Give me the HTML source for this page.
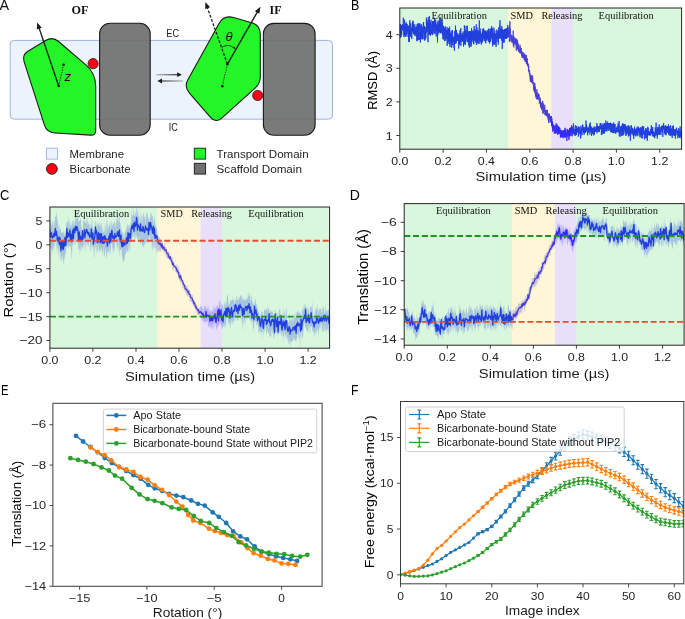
<!DOCTYPE html><html><head><meta charset="utf-8"><style>html,body{margin:0;padding:0;background:#fff;overflow:hidden}svg{display:block;will-change:transform}text{white-space:pre}</style></head><body><svg width="685" height="619" viewBox="0 0 685 619">
<rect width="685" height="619" fill="#fff"/>
<text x="-0.5" y="10.0" font-size="14.2" font-family="Liberation Sans" textLength="9.6" lengthAdjust="spacingAndGlyphs" fill="#111">A</text>
<rect x="10.2" y="40.4" width="322.3" height="78.8" rx="4" fill="#edf3fc" stroke="#9db4e0" stroke-width="1"/>
<text x="166.3" y="37.4" font-size="10.0" font-family="Liberation Sans" textLength="12.8" lengthAdjust="spacingAndGlyphs" fill="#222">EC</text>
<text x="168.8" y="130.7" font-size="10.0" font-family="Liberation Sans" textLength="9.0" lengthAdjust="spacingAndGlyphs" fill="#222">IC</text>
<text x="71.4" y="14.4" font-size="12.0" font-family="Liberation Serif" font-weight="bold" textLength="17.0" lengthAdjust="spacingAndGlyphs" fill="#111">OF</text>
<text x="269.6" y="13.9" font-size="12.0" font-family="Liberation Serif" font-weight="bold" textLength="12.0" lengthAdjust="spacingAndGlyphs" fill="#111">IF</text>
<path d="M45.67,40.46 Q52.50,36.30 58.57,41.51 L85.84,64.93 Q95.70,73.40 95.70,86.40 L95.70,130.40 Q95.70,135.40 90.71,135.10 L54.79,132.97 Q46.80,132.50 44.36,124.88 L24.08,61.57 Q21.95,54.90 27.93,51.26 Z" fill="#24f526" stroke="#1a1a1a" stroke-width="1.1" stroke-linejoin="round"/>
<path d="M219.06,23.45 Q223.90,14.70 233.50,17.50 L251.66,22.78 Q260.30,25.30 260.30,34.30 L260.30,76.50 Q260.30,83.50 255.09,88.17 L221.76,118.06 Q215.80,123.40 210.55,117.36 L189.25,92.84 Q184.00,86.80 187.87,79.80 Z" fill="#24f526" stroke="#1a1a1a" stroke-width="1.1" stroke-linejoin="round"/>
<rect x="99.6" y="23.3" width="50.6" height="111.9" rx="10.5" fill="rgb(112,112,112)" fill-opacity="0.93" stroke="#1a1a1a" stroke-width="1.1"/>
<rect x="263.4" y="23.4" width="51.7" height="111.8" rx="10.5" fill="rgb(112,112,112)" fill-opacity="0.93" stroke="#1a1a1a" stroke-width="1.1"/>
<circle cx="93.1" cy="63.7" r="5.1" fill="#ff0014" stroke="#1a1a1a" stroke-width="0.8"/>
<circle cx="257.7" cy="95.5" r="5.1" fill="#ff0014" stroke="#1a1a1a" stroke-width="0.8"/>
<line x1="58.7" y1="86.0" x2="38.80" y2="27.14" stroke="#1a1a1a" stroke-width="1.35"/>
<path d="M37.20,22.40 L41.74,27.73 L36.82,29.39 Z" fill="#1a1a1a"/>
<line x1="58.7" y1="86.0" x2="63.6" y2="64.7" stroke="#1a1a1a" stroke-width="0.9" stroke-dasharray="1.4 1.2"/>
<circle cx="58.7" cy="86.0" r="1.3" fill="#1a1a1a"/><circle cx="63.6" cy="64.7" r="1.3" fill="#1a1a1a"/>
<text x="64.4" y="80.7" font-size="13.2" font-family="Liberation Sans" font-style="italic" fill="#111">z</text>
<line x1="227.4" y1="64.2" x2="207.07" y2="6.71" stroke="#1a1a1a" stroke-width="1.3" stroke-dasharray="2.8 1.7"/>
<path d="M205.40,2.00 L210.02,7.26 L205.12,8.99 Z" fill="#1a1a1a"/>
<line x1="227.4" y1="64.2" x2="257.91" y2="11.13" stroke="#1a1a1a" stroke-width="1.35"/>
<path d="M260.40,6.80 L259.41,13.73 L254.91,11.14 Z" fill="#1a1a1a"/>
<line x1="227.4" y1="64.2" x2="222.3" y2="86.3" stroke="#1a1a1a" stroke-width="0.9" stroke-dasharray="1.4 1.2"/>
<circle cx="227.4" cy="64.2" r="1.3" fill="#1a1a1a"/><circle cx="222.3" cy="86.3" r="1.3" fill="#1a1a1a"/>
<text x="225.4" y="40.9" font-size="13.0" font-family="Liberation Sans" font-style="italic" fill="#111">θ</text>
<path d="M222.0,47.3 Q228.5,43.0 235.0,48.6" fill="none" stroke="#1a1a1a" stroke-width="0.8"/>
<path d="M235.4,49.2 L232.6,47.8 L234.6,46.4 Z" fill="#1a1a1a"/>
<defs><linearGradient id="gR" gradientUnits="userSpaceOnUse" x1="156" y1="0" x2="180" y2="0"><stop offset="0" stop-color="#222" stop-opacity="0.25"/><stop offset="1" stop-color="#222" stop-opacity="0.95"/></linearGradient><linearGradient id="gL" gradientUnits="userSpaceOnUse" x1="158" y1="0" x2="183" y2="0"><stop offset="0" stop-color="#222" stop-opacity="0.95"/><stop offset="1" stop-color="#222" stop-opacity="0.25"/></linearGradient></defs>
<line x1="156.0" y1="74.7" x2="178.5" y2="74.7" stroke="url(#gR)" stroke-width="1.3"/>
<path d="M181.8,74.7 L177.2,72.3 L177.2,77.1 Z" fill="#1a1a1a"/>
<line x1="161" y1="81.0" x2="183.0" y2="81.0" stroke="url(#gL)" stroke-width="1.3"/>
<path d="M157.4,81.0 L162.0,78.6 L162.0,83.4 Z" fill="#1a1a1a"/>
<rect x="46.4" y="148.2" width="11.2" height="10.9" fill="#edf3fc" stroke="#9db4e0" stroke-width="0.9"/>
<circle cx="51.9" cy="168.9" r="5.4" fill="#ff0014" stroke="#1a1a1a" stroke-width="0.9"/>
<rect x="194.3" y="148.2" width="11.3" height="10.9" fill="#24f526" stroke="#1a1a1a" stroke-width="0.9"/>
<rect x="194.3" y="163.3" width="11.3" height="10.8" fill="rgb(112,112,112)" stroke="#1a1a1a" stroke-width="0.9"/>
<text x="69.6" y="157.9" font-size="11.4" font-family="Liberation Sans" textLength="54.4" lengthAdjust="spacingAndGlyphs" fill="#222">Membrane</text>
<text x="69.6" y="172.8" font-size="11.4" font-family="Liberation Sans" textLength="61.0" lengthAdjust="spacingAndGlyphs" fill="#222">Bicarbonate</text>
<text x="216.6" y="158.0" font-size="11.4" font-family="Liberation Sans" textLength="92.0" lengthAdjust="spacingAndGlyphs" fill="#222">Transport Domain</text>
<text x="216.6" y="172.7" font-size="11.4" font-family="Liberation Sans" textLength="85.3" lengthAdjust="spacingAndGlyphs" fill="#222">Scaffold Domain</text>
<defs>
<clipPath id="cB"><rect x="399.8" y="8.0" width="281.8" height="141.2"/></clipPath>
</defs>
<g clip-path="url(#cB)">
<polyline points="399.8,26.9 399.9,26.5 400.0,28.5 400.1,32.7 400.2,27.7 400.3,24.0 400.4,29.4 400.5,27.5 400.6,37.7 400.7,29.4 400.8,29.4 400.9,34.7 401.0,37.1 401.1,27.1 401.2,32.6 401.3,26.3 401.4,30.3 401.5,25.2 401.6,29.5 401.7,34.9 401.8,28.3 401.9,29.5 402.0,25.2 402.1,30.6 402.2,30.7 402.3,25.3 402.4,24.1 402.5,26.2 402.6,25.1 402.7,27.8 402.8,26.3 402.9,25.7 403.0,27.7 403.1,29.0 403.2,28.4 403.3,17.7 403.4,28.5 403.5,29.5 403.6,29.9 403.7,28.3 403.8,26.9 403.9,33.2 404.0,37.1 404.1,26.4 404.2,35.1 404.3,26.3 404.4,26.8 404.5,22.1 404.6,19.7 404.7,25.7 404.8,30.0 404.9,32.8 405.0,30.9 405.1,27.0 405.2,36.7 405.3,26.6 405.4,26.9 405.5,23.8 405.6,28.4 405.7,26.6 405.8,30.8 405.9,29.9 406.0,36.5 406.1,28.3 406.2,22.2 406.3,29.1 406.4,28.5 406.5,34.9 406.6,23.8 406.7,33.8 406.8,26.3 406.9,29.2 407.0,33.7 407.1,24.1 407.2,28.5 407.3,27.5 407.4,26.2 407.5,28.4 407.6,30.2 407.7,26.5 407.8,30.9 407.9,29.0 408.0,32.7 408.1,36.9 408.3,33.4 408.4,32.9 408.5,30.8 408.6,25.7 408.7,39.3 408.8,31.0 408.9,42.0 409.0,36.6 409.1,34.1 409.2,42.0 409.3,39.9 409.4,30.3 409.5,30.3 409.6,31.0 409.7,34.0 409.8,20.2 409.9,30.9 410.0,34.3 410.1,22.7 410.2,27.9 410.3,32.8 410.4,25.8 410.5,30.8 410.6,28.8 410.7,30.8 410.8,36.8 410.9,27.6 411.0,31.5 411.1,37.0 411.2,35.9 411.3,28.0 411.4,34.1 411.5,32.1 411.6,29.2 411.7,31.5 411.8,38.9 411.9,28.7 412.0,27.1 412.1,27.3 412.2,23.6 412.3,29.2 412.4,27.1 412.5,23.1 412.6,31.5 412.7,21.8 412.8,21.6 412.9,25.8 413.0,20.7 413.1,25.3 413.2,33.4 413.3,24.1 413.4,28.0 413.5,27.8 413.6,29.2 413.7,23.8 413.8,27.8 413.9,33.9 414.0,28.7 414.1,27.9 414.2,35.0 414.3,34.0 414.4,34.1 414.5,35.5 414.6,31.4 414.7,28.5 414.8,24.5 414.9,27.8 415.0,28.6 415.1,28.0 415.2,27.0 415.3,34.8 415.4,29.6 415.5,31.1 415.6,32.8 415.7,33.9 415.8,33.7 415.9,32.2 416.0,36.3 416.1,27.9 416.2,30.3 416.3,29.6 416.4,28.5 416.5,26.8 416.6,33.0 416.7,30.9 416.8,38.1 416.9,41.2 417.0,40.2 417.1,24.3 417.2,40.3 417.3,30.0 417.4,25.8 417.5,35.2 417.6,26.0 417.7,25.4 417.8,29.9 417.9,23.5 418.0,31.7 418.1,37.9 418.2,32.0 418.3,36.4 418.4,40.2 418.5,40.0 418.6,23.3 418.7,36.5 418.8,34.1 418.9,37.1 419.0,33.4 419.1,35.0 419.2,35.7 419.3,39.2 419.4,40.0 419.5,36.7 419.6,31.7 419.7,23.3 419.8,27.9 419.9,24.3 420.0,30.4 420.1,33.1 420.2,38.8 420.3,32.7 420.4,42.6 420.5,34.0 420.6,25.0 420.7,30.9 420.8,27.2 420.9,34.1 421.0,38.8 421.1,34.8 421.2,34.7 421.3,27.6 421.4,24.3 421.5,37.1 421.6,35.5 421.7,34.5 421.8,35.4 421.9,39.3 422.0,32.8 422.1,31.2 422.2,30.6 422.3,37.6 422.4,32.1 422.5,39.2 422.6,26.7 422.7,35.5 422.8,31.9 422.9,32.8 423.0,33.5 423.1,35.8 423.2,39.2 423.3,23.2 423.4,30.2 423.5,30.3 423.6,22.0 423.7,32.3 423.8,29.4 423.9,31.9 424.0,26.5 424.1,29.6 424.2,30.3 424.3,32.8 424.4,30.1 424.5,25.9 424.6,40.7 424.7,31.5 424.8,32.7 425.0,32.1 425.1,39.7 425.2,27.1 425.3,34.4 425.4,31.5 425.5,32.7 425.6,38.0 425.7,32.2 425.8,38.4 425.9,33.9 426.0,30.6 426.1,28.7 426.2,28.0 426.3,28.5 426.4,17.6 426.5,25.2 426.6,32.7 426.7,29.8 426.8,30.1 426.9,28.0 427.0,30.1 427.1,31.5 427.2,20.2 427.3,27.9 427.4,30.0 427.5,29.8 427.6,29.8 427.7,22.3 427.8,26.4 427.9,23.0 428.0,42.2 428.1,25.8 428.2,21.9 428.3,17.2 428.4,25.9 428.5,33.9 428.6,23.3 428.7,29.0 428.8,34.9 428.9,29.8 429.0,22.4 429.1,21.9 429.2,24.3 429.3,32.6 429.4,16.2 429.5,33.3 429.6,28.3 429.7,34.7 429.8,21.9 429.9,25.9 430.0,23.7 430.1,27.2 430.2,27.7 430.3,26.3 430.4,35.7 430.5,22.1 430.6,22.4 430.7,28.5 430.8,26.8 430.9,25.5 431.0,19.8 431.1,25.2 431.2,27.1 431.3,29.7 431.4,34.3 431.5,30.1 431.6,27.0 431.7,28.5 431.8,27.0 431.9,23.9 432.0,25.4 432.1,26.1 432.2,24.4 432.3,26.5 432.4,27.5 432.5,25.1 432.6,35.1 432.7,21.1 432.8,32.7 432.9,22.6 433.0,26.2 433.1,21.0 433.2,26.0 433.3,30.6 433.4,21.3 433.5,25.7 433.6,26.2 433.7,26.5 433.8,22.3 433.9,23.2 434.0,25.8 434.1,33.9 434.2,28.4 434.3,25.8 434.4,17.8 434.5,24.3 434.6,26.5 434.7,20.6 434.8,26.9 434.9,26.6 435.0,26.0 435.1,33.8 435.2,22.4 435.3,24.9 435.4,28.0 435.5,31.8 435.6,25.3 435.7,19.6 435.8,28.9 435.9,30.8 436.0,24.0 436.1,33.5 436.2,36.6 436.3,28.6 436.4,29.9 436.5,28.1 436.6,29.5 436.7,25.4 436.8,28.0 436.9,29.8 437.0,29.2 437.1,24.2 437.2,22.7 437.3,23.0 437.4,24.0 437.5,42.5 437.6,31.9 437.7,28.8 437.8,26.5 437.9,35.0 438.0,20.9 438.1,26.0 438.2,30.1 438.3,26.3 438.4,28.4 438.5,30.0 438.6,24.0 438.7,28.3 438.8,32.7 438.9,29.1 439.0,26.8 439.1,31.5 439.2,20.8 439.3,31.9 439.4,19.0 439.5,23.2 439.6,31.8 439.7,26.9 439.8,22.0 439.9,28.2 440.0,32.6 440.1,26.3 440.2,17.4 440.3,33.4 440.4,23.8 440.5,26.3 440.6,26.9 440.7,28.3 440.8,28.0 440.9,21.7 441.0,23.8 441.1,31.3 441.2,19.5 441.3,33.0 441.4,24.1 441.5,26.7 441.6,22.4 441.8,26.9 441.9,24.2 442.0,29.9 442.1,25.8 442.2,29.3 442.3,21.3 442.4,34.9 442.5,26.3 442.6,29.8 442.7,31.3 442.8,34.7 442.9,30.1 443.0,39.0 443.1,38.6 443.2,28.9 443.3,39.5 443.4,25.7 443.5,33.7 443.6,31.4 443.7,32.3 443.8,30.9 443.9,34.4 444.0,35.0 444.1,34.1 444.2,28.8 444.3,28.5 444.4,27.8 444.5,31.9 444.6,34.5 444.7,41.2 444.8,30.2 444.9,29.1 445.0,34.6 445.1,28.8 445.2,26.4 445.3,31.8 445.4,27.3 445.5,30.9 445.6,40.6 445.7,35.1 445.8,35.2 445.9,31.2 446.0,38.0 446.1,36.4 446.2,39.0 446.3,34.8 446.4,34.2 446.5,29.9 446.6,30.6 446.7,33.4 446.8,33.0 446.9,33.5 447.0,33.5 447.1,27.0 447.2,45.8 447.3,35.2 447.4,33.0 447.5,29.3 447.6,39.7 447.7,33.1 447.8,30.9 447.9,37.1 448.0,44.0 448.1,37.1 448.2,41.3 448.3,33.0 448.4,40.2 448.5,28.2 448.6,36.0 448.7,40.4 448.8,38.9 448.9,41.6 449.0,34.6 449.1,29.5 449.2,37.4 449.3,32.2 449.4,41.0 449.5,35.5 449.6,26.6 449.7,44.1 449.8,32.2 449.9,32.8 450.0,47.1 450.1,45.2 450.2,43.1 450.3,34.1 450.4,40.6 450.5,39.3 450.6,35.2 450.7,38.0 450.8,37.5 450.9,40.0 451.0,33.3 451.1,42.0 451.2,30.6 451.3,40.0 451.4,42.1 451.5,35.4 451.6,36.4 451.7,47.7 451.8,37.5 451.9,44.8 452.0,42.4 452.1,34.9 452.2,42.7 452.3,37.1 452.4,40.7 452.5,30.1 452.6,39.8 452.7,45.2 452.8,45.2 452.9,44.7 453.0,40.2 453.1,41.1 453.2,36.8 453.3,40.6 453.4,40.8 453.5,39.7 453.6,41.7 453.7,39.5 453.8,36.9 453.9,36.7 454.0,42.5 454.1,47.9 454.2,43.2 454.3,38.0 454.4,50.7 454.5,41.3 454.6,36.9 454.7,41.5 454.8,44.0 454.9,30.6 455.0,32.2 455.1,39.7 455.2,32.2 455.3,32.2 455.4,43.4 455.5,25.6 455.6,42.2 455.7,39.0 455.8,42.7 455.9,37.0 456.0,43.3 456.1,37.2 456.2,32.1 456.3,36.1 456.4,38.3 456.5,29.9 456.6,41.2 456.7,32.4 456.8,38.1 456.9,35.5 457.0,36.0 457.1,35.3 457.2,35.9 457.3,39.1 457.4,38.1 457.5,33.4 457.6,36.0 457.7,41.0 457.8,39.0 457.9,39.0 458.0,36.1 458.1,35.0 458.2,35.3 458.3,38.7 458.4,35.4 458.6,41.7 458.7,48.6 458.8,35.4 458.9,42.9 459.0,39.8 459.1,41.2 459.2,33.0 459.3,41.9 459.4,35.3 459.5,39.3 459.6,43.1 459.7,45.1 459.8,35.9 459.9,36.5 460.0,34.9 460.1,30.1 460.2,37.3 460.3,37.2 460.4,39.0 460.5,37.8 460.6,39.6 460.7,41.9 460.8,28.2 460.9,45.7 461.0,35.5 461.1,34.3 461.2,35.4 461.3,40.3 461.4,36.5 461.5,37.7 461.6,40.5 461.7,35.9 461.8,37.7 461.9,38.6 462.0,33.1 462.1,41.4 462.2,34.6 462.3,39.6 462.4,34.8 462.5,36.5 462.6,35.7 462.7,41.4 462.8,40.4 462.9,40.7 463.0,35.8 463.1,33.1 463.2,31.5 463.3,38.7 463.4,35.9 463.5,43.8 463.6,46.5 463.7,40.2 463.8,39.2 463.9,43.3 464.0,44.3 464.1,33.6 464.2,39.7 464.3,43.8 464.4,25.4 464.5,35.4 464.6,37.8 464.7,33.4 464.8,40.2 464.9,29.6 465.0,44.2 465.1,43.3 465.2,38.0 465.3,41.0 465.4,30.9 465.5,44.9 465.6,40.7 465.7,36.1 465.8,34.4 465.9,32.2 466.0,34.9 466.1,25.9 466.2,37.9 466.3,34.5 466.4,30.9 466.5,35.9 466.6,35.5 466.7,36.0 466.8,36.7 466.9,38.9 467.0,36.4 467.1,41.2 467.2,32.7 467.3,42.2 467.4,25.8 467.5,27.9 467.6,31.0 467.7,37.4 467.8,39.3 467.9,31.0 468.0,35.8 468.1,34.1 468.2,40.0 468.3,31.9 468.4,40.7 468.5,36.7 468.6,45.5 468.7,40.7 468.8,35.5 468.9,40.0 469.0,39.8 469.1,33.9 469.2,37.5 469.3,31.1 469.4,47.6 469.5,33.4 469.6,33.4 469.7,42.7 469.8,41.4 469.9,31.2 470.0,40.1 470.1,38.1 470.2,32.4 470.3,36.7 470.4,33.1 470.5,39.5 470.6,34.4 470.7,31.1 470.8,34.9 470.9,46.9 471.0,34.0 471.1,36.9 471.2,41.4 471.3,30.8 471.4,45.2 471.5,28.3 471.6,39.7 471.7,29.3 471.8,36.5 471.9,42.2 472.0,35.5 472.1,34.2 472.2,33.2 472.3,30.8 472.4,39.8 472.5,33.5 472.6,32.4 472.7,37.1 472.8,40.2 472.9,40.4 473.0,32.6 473.1,32.4 473.2,40.0 473.3,42.4 473.4,30.6 473.5,43.5 473.6,35.6 473.7,40.1 473.8,44.4 473.9,35.8 474.0,37.2 474.1,29.8 474.2,26.0 474.3,37.4 474.4,31.9 474.5,31.8 474.6,39.1 474.7,40.7 474.8,29.3 474.9,38.3 475.0,36.6 475.1,37.7 475.3,36.9 475.4,39.0 475.5,32.7 475.6,30.3 475.7,37.8 475.8,42.4 475.9,35.7 476.0,42.6 476.1,38.5 476.2,29.6 476.3,24.4 476.4,33.1 476.5,39.6 476.6,31.0 476.7,44.9 476.8,37.6 476.9,27.3 477.0,30.7 477.1,40.5 477.2,41.7 477.3,30.1 477.4,34.3 477.5,36.9 477.6,32.4 477.7,37.2 477.8,43.6 477.9,31.3 478.0,38.3 478.1,40.2 478.2,41.9 478.3,34.8 478.4,39.7 478.5,33.0 478.6,37.0 478.7,30.6 478.8,37.2 478.9,38.2 479.0,44.0 479.1,39.8 479.2,31.2 479.3,20.3 479.4,40.0 479.5,39.0 479.6,32.7 479.7,32.2 479.8,37.7 479.9,34.4 480.0,42.5 480.1,36.8 480.2,31.6 480.3,28.6 480.4,37.3 480.5,38.0 480.6,35.1 480.7,32.4 480.8,35.5 480.9,41.4 481.0,36.4 481.1,33.7 481.2,41.5 481.3,44.5 481.4,36.0 481.5,36.7 481.6,34.0 481.7,38.1 481.8,41.4 481.9,40.4 482.0,42.9 482.1,42.2 482.2,40.1 482.3,39.3 482.4,31.5 482.5,41.9 482.6,36.2 482.7,38.4 482.8,28.8 482.9,34.4 483.0,37.5 483.1,32.2 483.2,35.8 483.3,38.4 483.4,29.2 483.5,33.1 483.6,28.4 483.7,30.9 483.8,32.6 483.9,35.4 484.0,40.9 484.1,32.5 484.2,35.3 484.3,32.5 484.4,35.7 484.5,39.0 484.6,40.7 484.7,33.1 484.8,30.6 484.9,38.2 485.0,34.9 485.1,30.7 485.2,40.9 485.3,38.5 485.4,41.9 485.5,31.1 485.6,35.0 485.7,38.1 485.8,43.3 485.9,36.3 486.0,30.6 486.1,36.4 486.2,36.9 486.3,31.9 486.4,40.4 486.5,34.5 486.6,32.0 486.7,38.3 486.8,38.5 486.9,33.5 487.0,35.1 487.1,35.6 487.2,33.5 487.3,33.5 487.4,38.9 487.5,37.9 487.6,33.2 487.7,30.5 487.8,29.9 487.9,40.5 488.0,31.9 488.1,33.6 488.2,37.3 488.3,34.8 488.4,33.1 488.5,28.7 488.6,41.7 488.7,34.2 488.8,37.7 488.9,38.1 489.0,32.0 489.1,33.6 489.2,42.0 489.3,38.6 489.4,36.2 489.5,43.6 489.6,33.1 489.7,37.5 489.8,36.4 489.9,35.6 490.0,28.8 490.1,36.9 490.2,38.6 490.3,28.7 490.4,38.8 490.5,38.5 490.6,42.1 490.7,30.4 490.8,33.8 490.9,32.6 491.0,33.7 491.1,34.9 491.2,37.7 491.3,37.5 491.4,31.8 491.5,33.1 491.6,26.0 491.7,37.0 491.8,35.8 491.9,38.5 492.1,27.8 492.2,40.2 492.3,31.5 492.4,28.9 492.5,36.5 492.6,32.9 492.7,46.3 492.8,38.5 492.9,44.5 493.0,36.2 493.1,37.1 493.2,40.7 493.3,32.9 493.4,35.6 493.5,39.7 493.6,39.7 493.7,44.2 493.8,38.3 493.9,27.7 494.0,40.6 494.1,35.3 494.2,39.6 494.3,33.2 494.4,34.7 494.5,37.6 494.6,44.5 494.7,38.5 494.8,30.5 494.9,37.1 495.0,33.1 495.1,38.2 495.2,44.6 495.3,34.2 495.4,34.7 495.5,38.9 495.6,38.0 495.7,35.0 495.8,39.1 495.9,34.7 496.0,37.2 496.1,46.9 496.2,36.5 496.3,38.2 496.4,39.0 496.5,33.1 496.6,36.9 496.7,32.1 496.8,29.6 496.9,34.0 497.0,41.9 497.1,38.3 497.2,30.8 497.3,36.2 497.4,38.7 497.5,35.4 497.6,32.7 497.7,33.8 497.8,32.1 497.9,38.9 498.0,36.4 498.1,36.3 498.2,35.2 498.3,44.7 498.4,36.2 498.5,41.2 498.6,28.7 498.7,28.0 498.8,27.4 498.9,31.4 499.0,37.3 499.1,30.6 499.2,35.8 499.3,31.8 499.4,38.5 499.5,36.7 499.6,31.6 499.7,25.3 499.8,33.3 499.9,22.7 500.0,20.3 500.1,38.8 500.2,33.0 500.3,37.3 500.4,33.6 500.5,35.4 500.6,33.4 500.7,28.7 500.8,28.9 500.9,32.1 501.0,33.3 501.1,32.9 501.2,32.9 501.3,30.9 501.4,33.6 501.5,31.4 501.6,39.8 501.7,30.3 501.8,26.1 501.9,33.5 502.0,41.0 502.1,28.6 502.2,36.5 502.3,48.9 502.4,36.3 502.5,32.5 502.6,33.4 502.7,29.2 502.8,31.8 502.9,33.7 503.0,43.0 503.1,38.8 503.2,32.5 503.3,30.0 503.4,37.6 503.5,35.6 503.6,30.5 503.7,41.4 503.8,41.5 503.9,33.6 504.0,31.3 504.1,34.5 504.2,42.5 504.3,31.9 504.4,37.9 504.5,29.1 504.6,32.7 504.7,31.4 504.8,30.2 504.9,35.8 505.0,30.4 505.1,29.1 505.2,33.2 505.3,29.4 505.4,38.0 505.5,31.4 505.6,33.9 505.7,38.9 505.8,34.6 505.9,36.0 506.0,35.6 506.1,32.5 506.2,28.2 506.3,33.9 506.4,32.1 506.5,38.8 506.6,32.5 506.7,28.4 506.8,29.9 506.9,31.3 507.0,35.2 507.1,36.8 507.2,33.1 507.3,37.8 507.4,37.1 507.5,28.4 507.6,35.7 507.7,25.1 507.8,37.7 507.9,30.7 508.0,37.1 508.1,32.1 508.2,36.8 508.3,32.8 508.4,33.6 508.5,34.8 508.6,31.2 508.8,27.6 508.9,35.6 509.0,30.3 509.1,33.4 509.2,34.0 509.3,26.1 509.4,42.0 509.5,36.7 509.6,40.8 509.7,35.6 509.8,35.4 509.9,21.3 510.0,33.6 510.1,28.7 510.2,30.6 510.3,36.8 510.4,33.8 510.5,29.9 510.6,35.2 510.7,35.3 510.8,34.5 510.9,41.4 511.0,39.3 511.1,35.6 511.2,35.1 511.3,40.1 511.4,38.3 511.5,37.8 511.6,38.1 511.7,35.5 511.8,37.5 511.9,37.5 512.0,42.5 512.1,41.3 512.2,37.0 512.3,42.8 512.4,37.0 512.5,39.8 512.6,40.2 512.7,35.8 512.8,40.0 512.9,40.7 513.0,40.4 513.1,38.4 513.2,30.6 513.3,45.5 513.4,39.5 513.5,40.4 513.6,37.1 513.7,41.1 513.8,47.4 513.9,36.3 514.0,43.5 514.1,40.5 514.2,44.3 514.3,43.6 514.4,41.9 514.5,38.1 514.6,38.2 514.7,42.4 514.8,39.4 514.9,42.0 515.0,40.7 515.1,40.8 515.2,39.6 515.3,43.2 515.4,42.1 515.5,41.3 515.6,41.9 515.7,44.6 515.8,38.0 515.9,44.4 516.0,41.5 516.1,43.4 516.2,41.0 516.3,50.6 516.4,39.4 516.5,45.8 516.6,48.6 516.7,45.0 516.8,39.3 516.9,44.0 517.0,48.7 517.1,46.6 517.2,41.9 517.3,49.2 517.4,46.1 517.5,46.6 517.6,40.4 517.7,47.0 517.8,43.0 517.9,48.4 518.0,48.8 518.1,44.3 518.2,45.4 518.3,51.5 518.4,45.6 518.5,45.7 518.6,49.0 518.7,47.1 518.8,47.2 518.9,49.3 519.0,49.8 519.1,50.2 519.2,49.3 519.3,52.1 519.4,49.0 519.5,52.7 519.6,48.9 519.7,49.4 519.8,51.8 519.9,47.2 520.0,44.7 520.1,46.4 520.2,53.3 520.3,47.0 520.4,49.8 520.5,50.7 520.6,52.4 520.7,51.2 520.8,48.0 520.9,50.4 521.0,53.0 521.1,53.9 521.2,53.5 521.3,51.2 521.4,48.2 521.5,55.7 521.6,53.3 521.7,54.4 521.8,55.6 521.9,52.9 522.0,52.8 522.1,57.9 522.2,57.1 522.3,51.7 522.4,54.0 522.5,53.5 522.6,56.0 522.7,55.7 522.8,53.5 522.9,55.9 523.0,57.5 523.1,54.8 523.2,52.7 523.3,57.7 523.4,52.7 523.5,53.8 523.6,57.9 523.7,55.9 523.8,56.1 523.9,54.5 524.0,54.6 524.1,59.7 524.2,59.9 524.3,54.1 524.4,56.6 524.5,56.0 524.6,56.4 524.7,53.6 524.8,60.7 524.9,55.1 525.0,60.1 525.1,56.4 525.2,55.0 525.3,62.0 525.4,57.7 525.6,59.5 525.7,59.7 525.8,59.0 525.9,61.9 526.0,61.9 526.1,58.0 526.2,57.8 526.3,61.6 526.4,64.1 526.5,54.9 526.6,58.2 526.7,60.3 526.8,64.0 526.9,63.1 527.0,61.2 527.1,64.4 527.2,58.2 527.3,62.2 527.4,61.9 527.5,65.8 527.6,65.8 527.7,65.9 527.8,63.6 527.9,65.5 528.0,66.2 528.1,65.4 528.2,66.3 528.3,63.7 528.4,68.6 528.5,71.2 528.6,69.1 528.7,65.7 528.8,71.2 528.9,70.1 529.0,71.4 529.1,69.9 529.2,70.7 529.3,73.9 529.4,72.9 529.5,70.4 529.6,70.6 529.7,71.6 529.8,72.3 529.9,76.0 530.0,76.7 530.1,73.8 530.2,79.5 530.3,77.1 530.4,82.0 530.5,78.5 530.6,79.5 530.7,80.9 530.8,76.5 530.9,79.9 531.0,79.1 531.1,79.0 531.2,80.4 531.3,75.1 531.4,80.2 531.5,78.7 531.6,82.8 531.7,80.9 531.8,80.8 531.9,81.1 532.0,82.0 532.1,80.5 532.2,77.2 532.3,81.7 532.4,82.0 532.5,82.8 532.6,75.5 532.7,78.0 532.8,80.8 532.9,80.5 533.0,84.2 533.1,83.0 533.2,82.2 533.3,82.7 533.4,85.5 533.5,85.6 533.6,82.7 533.7,83.6 533.8,90.3 533.9,85.2 534.0,82.7 534.1,88.1 534.2,86.3 534.3,91.1 534.4,85.7 534.5,91.1 534.6,91.8 534.7,89.8 534.8,83.2 534.9,91.2 535.0,93.2 535.1,89.1 535.2,90.0 535.3,86.7 535.4,94.6 535.5,95.9 535.6,93.1 535.7,91.8 535.8,92.4 535.9,91.0 536.0,98.1 536.1,96.9 536.2,95.6 536.3,93.4 536.4,94.6 536.5,97.0 536.6,98.7 536.7,93.9 536.8,93.8 536.9,89.3 537.0,96.9 537.1,92.3 537.2,99.7 537.3,98.0 537.4,98.4 537.5,97.9 537.6,99.0 537.7,98.2 537.8,96.9 537.9,98.0 538.0,95.2 538.1,97.2 538.2,97.1 538.3,93.4 538.4,96.5 538.5,97.1 538.6,97.7 538.7,97.6 538.8,96.4 538.9,100.1 539.0,95.3 539.1,94.4 539.2,95.7 539.3,100.2 539.4,103.4 539.5,100.7 539.6,99.6 539.7,98.3 539.8,101.3 539.9,102.0 540.0,97.6 540.1,103.6 540.2,99.4 540.3,100.1 540.4,106.0 540.5,102.0 540.6,104.3 540.7,105.5 540.8,108.0 540.9,107.4 541.0,102.5 541.1,104.8 541.2,103.4 541.3,107.3 541.4,105.7 541.5,105.9 541.6,109.6 541.7,110.1 541.8,104.9 541.9,105.7 542.0,108.6 542.1,106.4 542.2,104.4 542.4,101.4 542.5,108.5 542.6,104.7 542.7,100.9 542.8,106.5 542.9,103.1 543.0,113.9 543.1,103.6 543.2,107.7 543.3,112.8 543.4,106.2 543.5,105.8 543.6,105.8 543.7,106.2 543.8,109.8 543.9,112.0 544.0,111.6 544.1,110.7 544.2,109.6 544.3,112.0 544.4,110.6 544.5,108.4 544.6,109.9 544.7,104.8 544.8,105.3 544.9,114.2 545.0,112.9 545.1,115.1 545.2,115.0 545.3,110.8 545.4,115.0 545.5,115.3 545.6,113.3 545.7,110.6 545.8,113.6 545.9,113.7 546.0,110.3 546.1,111.5 546.2,111.6 546.3,110.4 546.4,115.5 546.5,112.3 546.6,114.6 546.7,110.2 546.8,110.8 546.9,115.8 547.0,109.7 547.1,116.4 547.2,110.4 547.3,113.1 547.4,116.1 547.5,116.9 547.6,114.8 547.7,114.2 547.8,116.2 547.9,112.9 548.0,118.3 548.1,114.9 548.2,115.1 548.3,120.4 548.4,115.0 548.5,119.5 548.6,123.0 548.7,118.3 548.8,117.6 548.9,114.8 549.0,118.7 549.1,113.6 549.2,113.9 549.3,114.9 549.4,114.4 549.5,117.1 549.6,119.6 549.7,116.5 549.8,115.7 549.9,117.7 550.0,119.1 550.1,122.6 550.2,116.6 550.3,117.4 550.4,121.8 550.5,118.0 550.6,116.2 550.7,118.4 550.8,116.1 550.9,116.2 551.0,122.3 551.1,119.6 551.2,117.9 551.3,117.2 551.4,116.4 551.5,125.8 551.6,121.3 551.7,119.7 551.8,118.8 551.9,118.1 552.0,125.5 552.1,124.4 552.2,126.7 552.3,122.0 552.4,128.0 552.5,121.6 552.6,122.6 552.7,124.2 552.8,131.7 552.9,128.1 553.0,124.5 553.1,130.5 553.2,127.5 553.3,127.3 553.4,124.8 553.5,126.6 553.6,126.8 553.7,128.9 553.8,127.9 553.9,128.5 554.0,126.4 554.1,129.1 554.2,126.0 554.3,133.6 554.4,125.9 554.5,129.7 554.6,126.3 554.7,129.2 554.8,127.2 554.9,125.5 555.0,131.1 555.1,129.3 555.2,129.9 555.3,128.8 555.4,133.6 555.5,129.5 555.6,129.6 555.7,130.9 555.8,129.2 555.9,132.8 556.0,124.7 556.1,127.3 556.2,123.3 556.3,130.8 556.4,131.6 556.5,127.7 556.6,133.1 556.7,128.1 556.8,130.8 556.9,130.0 557.0,128.6 557.1,129.4 557.2,124.7 557.3,128.3 557.4,133.8 557.5,127.9 557.6,134.4 557.7,130.8 557.8,134.5 557.9,133.4 558.0,127.5 558.1,132.4 558.2,132.4 558.3,131.9 558.4,131.0 558.5,126.0 558.6,133.1 558.7,133.2 558.8,128.2 558.9,134.2 559.1,131.0 559.2,127.0 559.3,130.2 559.4,131.7 559.5,132.6 559.6,133.4 559.7,132.8 559.8,131.0 559.9,128.2 560.0,129.2 560.1,133.5 560.2,134.1 560.3,130.3 560.4,137.3 560.5,133.7 560.6,133.5 560.7,135.8 560.8,135.6 560.9,132.0 561.0,137.5 561.1,135.5 561.2,134.8 561.3,132.8 561.4,136.8 561.5,130.1 561.6,134.0 561.7,133.9 561.8,134.3 561.9,135.3 562.0,136.3 562.1,130.6 562.2,133.4 562.3,134.5 562.4,131.6 562.5,136.4 562.6,132.8 562.7,134.4 562.8,136.9 562.9,132.2 563.0,138.3 563.1,132.3 563.2,136.4 563.3,132.7 563.4,130.0 563.5,132.1 563.6,135.3 563.7,133.5 563.8,134.2 563.9,136.3 564.0,135.9 564.1,132.6 564.2,131.1 564.3,137.4 564.4,132.7 564.5,131.1 564.6,132.1 564.7,135.2 564.8,129.5 564.9,135.7 565.0,130.5 565.1,127.8 565.2,137.8 565.3,131.4 565.4,131.3 565.5,131.6 565.6,134.4 565.7,133.3 565.8,136.6 565.9,132.6 566.0,131.7 566.1,135.3 566.2,136.2 566.3,135.1 566.4,133.9 566.5,133.8 566.6,134.2 566.7,133.6 566.8,137.2 566.9,140.9 567.0,131.4 567.1,128.9 567.2,136.7 567.3,134.5 567.4,131.8 567.5,130.0 567.6,131.0 567.7,129.3 567.8,133.2 567.9,132.0 568.0,132.1 568.1,134.6 568.2,130.1 568.3,131.7 568.4,130.7 568.5,134.5 568.6,130.3 568.7,136.0 568.8,131.7 568.9,139.9 569.0,135.3 569.1,130.3 569.2,133.6 569.3,131.8 569.4,136.9 569.5,128.1 569.6,130.7 569.7,132.5 569.8,131.2 569.9,131.3 570.0,128.1 570.1,131.2 570.2,135.7 570.3,132.1 570.4,127.6 570.5,129.5 570.6,132.2 570.7,129.3 570.8,130.7 570.9,129.4 571.0,135.6 571.1,133.7 571.2,129.3 571.3,131.7 571.4,130.0 571.5,125.4 571.6,131.6 571.7,129.8 571.8,132.0 571.9,132.1 572.0,130.5 572.1,134.4 572.2,136.3 572.3,126.6 572.4,130.8 572.5,127.3 572.6,130.2 572.7,130.1 572.8,128.7 572.9,128.6 573.0,134.1 573.1,127.3 573.2,133.5 573.3,130.2 573.4,123.5 573.5,130.4 573.6,125.8 573.7,131.4 573.8,128.6 573.9,130.2 574.0,129.1 574.1,132.8 574.2,133.2 574.3,129.8 574.4,135.4 574.5,133.6 574.6,129.5 574.7,133.1 574.8,133.9 574.9,134.4 575.0,130.8 575.1,132.1 575.2,130.4 575.3,131.2 575.4,125.2 575.5,131.5 575.6,135.7 575.7,129.7 575.9,130.1 576.0,129.7 576.1,134.7 576.2,127.1 576.3,130.4 576.4,130.4 576.5,134.7 576.6,128.7 576.7,130.1 576.8,125.9 576.9,130.7 577.0,132.8 577.1,128.8 577.2,131.6 577.3,127.8 577.4,132.0 577.5,129.3 577.6,129.7 577.7,129.3 577.8,130.8 577.9,131.9 578.0,130.0 578.1,131.6 578.2,129.7 578.3,131.0 578.4,136.6 578.5,130.5 578.6,126.4 578.7,129.4 578.8,128.5 578.9,128.8 579.0,131.4 579.1,133.8 579.2,127.8 579.3,127.2 579.4,128.7 579.5,129.3 579.6,129.6 579.7,131.1 579.8,130.5 579.9,131.5 580.0,130.8 580.1,134.5 580.2,133.7 580.3,130.3 580.4,132.8 580.5,138.5 580.6,131.3 580.7,137.8 580.8,125.9 580.9,129.0 581.0,128.9 581.1,132.4 581.2,133.5 581.3,130.7 581.4,129.8 581.5,131.8 581.6,129.0 581.7,127.5 581.8,127.6 581.9,132.1 582.0,135.3 582.1,129.2 582.2,131.1 582.3,128.0 582.4,124.7 582.5,124.7 582.6,128.4 582.7,126.2 582.8,124.8 582.9,129.3 583.0,128.8 583.1,127.4 583.2,130.0 583.3,131.5 583.4,132.3 583.5,130.5 583.6,132.4 583.7,128.7 583.8,132.0 583.9,127.2 584.0,128.0 584.1,134.8 584.2,128.4 584.3,132.4 584.4,127.4 584.5,129.7 584.6,131.1 584.7,129.0 584.8,132.3 584.9,129.6 585.0,129.3 585.1,130.6 585.2,128.9 585.3,132.6 585.4,128.1 585.5,132.9 585.6,127.7 585.7,128.0 585.8,127.2 585.9,130.6 586.0,120.6 586.1,129.5 586.2,128.3 586.3,130.6 586.4,124.5 586.5,129.7 586.6,125.7 586.7,131.1 586.8,127.9 586.9,130.0 587.0,126.7 587.1,130.3 587.2,132.1 587.3,128.6 587.4,133.2 587.5,132.7 587.6,128.0 587.7,135.3 587.8,128.1 587.9,131.3 588.0,132.7 588.1,129.5 588.2,128.3 588.3,131.6 588.4,130.4 588.5,127.6 588.6,127.6 588.7,129.6 588.8,131.5 588.9,131.8 589.0,130.8 589.1,127.2 589.2,127.4 589.3,128.2 589.4,125.2 589.5,129.8 589.6,130.1 589.7,130.0 589.8,123.7 589.9,134.5 590.0,128.0 590.1,127.6 590.2,128.7 590.3,122.5 590.4,125.8 590.5,127.2 590.6,132.0 590.7,128.5 590.8,131.2 590.9,130.3 591.0,130.2 591.1,132.2 591.2,129.3 591.3,126.5 591.4,128.1 591.5,130.2 591.6,136.0 591.7,127.6 591.8,127.5 591.9,130.9 592.0,131.6 592.1,128.4 592.2,132.3 592.3,127.9 592.4,133.0 592.6,132.5 592.7,130.0 592.8,134.0 592.9,130.1 593.0,128.8 593.1,133.9 593.2,127.9 593.3,132.0 593.4,129.1 593.5,130.0 593.6,131.9 593.7,132.1 593.8,135.4 593.9,132.7 594.0,132.9 594.1,126.4 594.2,128.1 594.3,134.5 594.4,128.5 594.5,129.9 594.6,131.4 594.7,128.9 594.8,127.8 594.9,131.3 595.0,130.3 595.1,129.0 595.2,132.0 595.3,128.8 595.4,129.5 595.5,131.2 595.6,131.7 595.7,128.7 595.8,127.3 595.9,128.8 596.0,132.0 596.1,127.5 596.2,129.0 596.3,127.6 596.4,125.9 596.5,131.3 596.6,129.1 596.7,130.2 596.8,130.9 596.9,123.1 597.0,125.9 597.1,133.3 597.2,127.4 597.3,130.1 597.4,125.6 597.5,128.5 597.6,129.2 597.7,128.4 597.8,127.7 597.9,128.7 598.0,129.4 598.1,129.2 598.2,127.4 598.3,131.9 598.4,128.8 598.5,129.0 598.6,129.9 598.7,126.4 598.8,131.7 598.9,129.0 599.0,130.1 599.1,126.2 599.2,128.8 599.3,127.3 599.4,126.4 599.5,131.8 599.6,126.3 599.7,129.7 599.8,128.5 599.9,128.2 600.0,125.8 600.1,126.0 600.2,123.2 600.3,127.5 600.4,129.1 600.5,129.1 600.6,125.8 600.7,123.1 600.8,126.5 600.9,129.0 601.0,126.7 601.1,126.9 601.2,127.7 601.3,129.9 601.4,135.0 601.5,129.7 601.6,125.6 601.7,128.0 601.8,134.7 601.9,128.8 602.0,133.8 602.1,123.5 602.2,128.3 602.3,132.1 602.4,126.6 602.5,130.9 602.6,127.2 602.7,128.7 602.8,132.0 602.9,127.1 603.0,132.6 603.1,125.4 603.2,128.8 603.3,131.7 603.4,133.7 603.5,124.3 603.6,124.6 603.7,131.8 603.8,123.8 603.9,127.8 604.0,128.9 604.1,128.5 604.2,129.1 604.3,124.6 604.4,128.1 604.5,133.6 604.6,123.0 604.7,126.4 604.8,131.8 604.9,129.8 605.0,131.3 605.1,128.6 605.2,127.4 605.3,127.6 605.4,129.5 605.5,129.7 605.6,124.9 605.7,127.1 605.8,120.5 605.9,128.6 606.0,124.3 606.1,126.4 606.2,128.7 606.3,123.3 606.4,127.0 606.5,130.1 606.6,128.9 606.7,125.4 606.8,131.5 606.9,124.4 607.0,126.1 607.1,128.4 607.2,123.7 607.3,122.3 607.4,125.2 607.5,126.2 607.6,121.7 607.7,122.6 607.8,129.3 607.9,127.4 608.0,127.5 608.1,128.0 608.2,131.0 608.3,124.5 608.4,126.7 608.5,126.6 608.6,123.0 608.7,128.3 608.8,126.9 608.9,126.0 609.0,127.8 609.1,126.9 609.2,124.5 609.4,126.6 609.5,123.0 609.6,128.7 609.7,126.2 609.8,130.7 609.9,127.2 610.0,128.9 610.1,123.4 610.2,125.3 610.3,126.1 610.4,122.7 610.5,124.1 610.6,126.2 610.7,130.2 610.8,132.3 610.9,128.4 611.0,129.2 611.1,129.8 611.2,128.6 611.3,132.1 611.4,123.4 611.5,130.5 611.6,129.1 611.7,125.8 611.8,131.9 611.9,125.0 612.0,125.0 612.1,128.5 612.2,130.7 612.3,129.0 612.4,132.8 612.5,123.9 612.6,127.5 612.7,129.7 612.8,130.2 612.9,126.2 613.0,123.8 613.1,131.5 613.2,129.8 613.3,133.2 613.4,126.7 613.5,128.2 613.6,122.5 613.7,129.1 613.8,129.9 613.9,130.6 614.0,126.3 614.1,133.1 614.2,126.6 614.3,128.0 614.4,130.1 614.5,131.2 614.6,125.9 614.7,123.8 614.8,130.2 614.9,127.7 615.0,124.4 615.1,131.0 615.2,130.1 615.3,132.8 615.4,130.0 615.5,129.8 615.6,130.8 615.7,131.6 615.8,133.9 615.9,133.2 616.0,132.2 616.1,127.7 616.2,130.9 616.3,131.9 616.4,127.8 616.5,128.1 616.6,131.8 616.7,131.5 616.8,127.9 616.9,128.6 617.0,131.8 617.1,128.7 617.2,129.3 617.3,126.1 617.4,131.5 617.5,126.7 617.6,127.9 617.7,131.8 617.8,126.1 617.9,126.4 618.0,132.5 618.1,123.3 618.2,131.9 618.3,131.3 618.4,129.6 618.5,126.5 618.6,127.0 618.7,128.9 618.8,124.8 618.9,127.5 619.0,124.8 619.1,121.0 619.2,128.4 619.3,136.2 619.4,130.5 619.5,132.4 619.6,129.3 619.7,129.4 619.8,133.2 619.9,133.0 620.0,130.6 620.1,130.3 620.2,136.9 620.3,126.9 620.4,129.4 620.5,129.4 620.6,128.5 620.7,132.1 620.8,129.3 620.9,126.3 621.0,126.1 621.1,127.9 621.2,130.0 621.3,131.6 621.4,125.7 621.5,128.0 621.6,130.7 621.7,135.8 621.8,132.3 621.9,135.4 622.0,126.6 622.1,129.8 622.2,132.5 622.3,131.4 622.4,123.4 622.5,127.3 622.6,134.6 622.7,131.1 622.8,134.2 622.9,135.5 623.0,130.1 623.1,123.7 623.2,126.0 623.3,130.2 623.4,131.3 623.5,129.5 623.6,127.0 623.7,133.9 623.8,134.8 623.9,124.0 624.0,128.4 624.1,124.4 624.2,128.2 624.3,124.5 624.4,130.4 624.5,127.2 624.6,124.2 624.7,125.7 624.8,130.0 624.9,126.1 625.0,130.6 625.1,132.7 625.2,127.1 625.3,124.6 625.4,126.1 625.5,132.1 625.6,126.1 625.7,126.7 625.8,130.0 625.9,136.0 626.0,126.1 626.2,126.7 626.3,128.0 626.4,134.6 626.5,134.0 626.6,127.0 626.7,127.7 626.8,128.7 626.9,130.9 627.0,129.2 627.1,131.9 627.2,131.4 627.3,133.1 627.4,129.9 627.5,131.9 627.6,128.0 627.7,128.7 627.8,133.1 627.9,125.5 628.0,133.9 628.1,129.2 628.2,127.2 628.3,126.5 628.4,136.4 628.5,127.0 628.6,126.2 628.7,125.5 628.8,136.1 628.9,131.7 629.0,130.1 629.1,131.3 629.2,126.3 629.3,132.4 629.4,127.2 629.5,129.4 629.6,135.4 629.7,134.3 629.8,133.0 629.9,131.5 630.0,129.0 630.1,132.5 630.2,129.4 630.3,136.6 630.4,140.9 630.5,133.0 630.6,130.6 630.7,132.9 630.8,134.7 630.9,130.4 631.0,125.9 631.1,131.6 631.2,133.3 631.3,133.5 631.4,125.2 631.5,130.9 631.6,128.9 631.7,127.1 631.8,127.5 631.9,133.3 632.0,128.0 632.1,128.4 632.2,129.6 632.3,128.2 632.4,132.9 632.5,131.6 632.6,133.1 632.7,129.5 632.8,133.7 632.9,130.9 633.0,135.4 633.1,132.8 633.2,133.7 633.3,133.1 633.4,132.5 633.5,133.5 633.6,133.6 633.7,138.8 633.8,129.4 633.9,134.1 634.0,132.7 634.1,134.1 634.2,128.5 634.3,133.8 634.4,129.6 634.5,127.7 634.6,126.5 634.7,128.1 634.8,130.1 634.9,135.7 635.0,128.9 635.1,129.5 635.2,130.9 635.3,131.2 635.4,133.5 635.5,135.2 635.6,130.6 635.7,129.9 635.8,136.4 635.9,130.5 636.0,132.2 636.1,130.1 636.2,131.5 636.3,128.8 636.4,128.7 636.5,128.8 636.6,135.1 636.7,128.5 636.8,130.6 636.9,134.0 637.0,128.8 637.1,134.9 637.2,128.6 637.3,126.6 637.4,133.2 637.5,129.4 637.6,130.9 637.7,130.5 637.8,136.2 637.9,130.5 638.0,131.6 638.1,129.6 638.2,131.4 638.3,127.9 638.4,130.1 638.5,128.8 638.6,126.8 638.7,130.3 638.8,128.2 638.9,130.7 639.0,130.1 639.1,133.4 639.2,129.9 639.3,128.8 639.4,132.6 639.5,130.1 639.6,131.1 639.7,135.4 639.8,131.2 639.9,128.4 640.0,133.7 640.1,137.5 640.2,131.9 640.3,134.5 640.4,127.3 640.5,132.9 640.6,132.8 640.7,134.6 640.8,131.9 640.9,134.1 641.0,135.0 641.1,132.5 641.2,134.5 641.3,128.4 641.4,135.5 641.5,132.3 641.6,134.1 641.7,136.1 641.8,127.4 641.9,138.2 642.0,128.1 642.1,136.3 642.2,132.0 642.3,125.9 642.4,138.4 642.5,136.2 642.6,128.5 642.7,131.7 642.9,133.6 643.0,132.0 643.1,134.5 643.2,131.3 643.3,127.3 643.4,132.6 643.5,131.2 643.6,128.3 643.7,126.3 643.8,133.8 643.9,131.6 644.0,134.3 644.1,134.8 644.2,134.3 644.3,135.1 644.4,138.5 644.5,139.4 644.6,135.9 644.7,133.6 644.8,130.6 644.9,135.6 645.0,134.6 645.1,132.2 645.2,131.9 645.3,134.3 645.4,134.1 645.5,128.5 645.6,134.7 645.7,135.1 645.8,138.3 645.9,132.4 646.0,134.4 646.1,128.3 646.2,134.7 646.3,131.6 646.4,131.4 646.5,129.5 646.6,138.1 646.7,130.0 646.8,134.5 646.9,134.8 647.0,135.4 647.1,135.6 647.2,135.3 647.3,140.8 647.4,132.5 647.5,133.6 647.6,136.3 647.7,133.6 647.8,126.7 647.9,132.1 648.0,134.2 648.1,128.2 648.2,135.3 648.3,133.5 648.4,134.7 648.5,133.7 648.6,130.9 648.7,131.3 648.8,134.9 648.9,133.1 649.0,132.4 649.1,133.7 649.2,132.6 649.3,134.5 649.4,134.6 649.5,132.4 649.6,135.4 649.7,131.4 649.8,133.2 649.9,135.3 650.0,134.5 650.1,134.2 650.2,133.4 650.3,132.7 650.4,133.7 650.5,135.5 650.6,129.0 650.7,130.3 650.8,132.5 650.9,130.0 651.0,131.7 651.1,133.4 651.2,132.5 651.3,125.3 651.4,130.1 651.5,130.1 651.6,134.2 651.7,131.5 651.8,127.0 651.9,132.2 652.0,130.5 652.1,130.1 652.2,131.9 652.3,129.4 652.4,133.3 652.5,132.7 652.6,136.0 652.7,127.0 652.8,133.7 652.9,134.4 653.0,130.8 653.1,136.1 653.2,134.7 653.3,136.8 653.4,134.4 653.5,135.4 653.6,132.7 653.7,134.5 653.8,135.7 653.9,134.9 654.0,134.4 654.1,135.6 654.2,131.7 654.3,132.6 654.4,134.2 654.5,138.0 654.6,133.2 654.7,138.2 654.8,134.0 654.9,134.2 655.0,135.7 655.1,136.1 655.2,135.4 655.3,127.4 655.4,133.5 655.5,133.1 655.6,129.6 655.7,130.9 655.8,129.0 655.9,135.4 656.0,135.0 656.1,122.6 656.2,132.1 656.3,132.8 656.4,131.5 656.5,129.1 656.6,135.2 656.7,131.0 656.8,131.9 656.9,129.9 657.0,131.3 657.1,133.3 657.2,134.2 657.3,138.6 657.4,129.1 657.5,135.9 657.6,132.9 657.7,127.1 657.8,132.9 657.9,130.0 658.0,132.3 658.1,129.7 658.2,131.5 658.3,132.9 658.4,127.5 658.5,131.9 658.6,134.7 658.7,131.7 658.8,129.2 658.9,133.7 659.0,128.3 659.1,128.3 659.2,124.5 659.3,132.1 659.4,128.5 659.5,135.0 659.7,131.6 659.8,130.3 659.9,129.5 660.0,130.9 660.1,131.1 660.2,132.6 660.3,132.1 660.4,129.8 660.5,129.0 660.6,128.6 660.7,127.5 660.8,126.9 660.9,135.1 661.0,131.5 661.1,130.5 661.2,131.8 661.3,127.1 661.4,127.9 661.5,130.1 661.6,129.4 661.7,126.0 661.8,130.4 661.9,130.2 662.0,126.7 662.1,127.9 662.2,125.3 662.3,128.3 662.4,127.4 662.5,131.0 662.6,132.2 662.7,129.6 662.8,136.9 662.9,128.3 663.0,126.6 663.1,129.0 663.2,129.7 663.3,126.1 663.4,129.2 663.5,126.3 663.6,123.0 663.7,127.1 663.8,126.5 663.9,127.8 664.0,128.5 664.1,128.6 664.2,129.3 664.3,126.6 664.4,134.1 664.5,130.5 664.6,128.0 664.7,132.1 664.8,130.0 664.9,131.6 665.0,128.3 665.1,127.1 665.2,125.5 665.3,128.1 665.4,131.4 665.5,128.7 665.6,127.8 665.7,125.4 665.8,135.3 665.9,128.3 666.0,134.5 666.1,127.5 666.2,128.3 666.3,128.2 666.4,127.3 666.5,128.7 666.6,131.6 666.7,128.8 666.8,126.4 666.9,130.0 667.0,129.5 667.1,132.9 667.2,126.3 667.3,130.9 667.4,131.5 667.5,130.7 667.6,132.0 667.7,130.4 667.8,126.3 667.9,127.8 668.0,126.2 668.1,126.2 668.2,133.0 668.3,129.2 668.4,126.5 668.5,124.2 668.6,134.4 668.7,134.3 668.8,128.9 668.9,131.0 669.0,132.6 669.1,128.5 669.2,131.6 669.3,135.5 669.4,129.1 669.5,128.6 669.6,127.2 669.7,126.4 669.8,128.6 669.9,130.0 670.0,131.4 670.1,134.5 670.2,131.4 670.3,127.8 670.4,129.0 670.5,125.3 670.6,131.5 670.7,136.0 670.8,128.7 670.9,128.1 671.0,134.1 671.1,135.2 671.2,130.3 671.3,128.6 671.4,133.7 671.5,131.5 671.6,132.7 671.7,133.8 671.8,134.3 671.9,130.3 672.0,131.7 672.1,132.6 672.2,138.0 672.3,125.9 672.4,133.4 672.5,131.2 672.6,134.1 672.7,129.9 672.8,135.3 672.9,131.0 673.0,131.8 673.1,128.8 673.2,134.5 673.3,133.2 673.4,132.0 673.5,125.5 673.6,135.3 673.7,130.3 673.8,132.8 673.9,130.0 674.0,129.0 674.1,130.4 674.2,130.1 674.3,130.1 674.4,132.6 674.5,131.8 674.6,136.0 674.7,132.5 674.8,133.8 674.9,132.5 675.0,129.8 675.1,130.8 675.2,130.6 675.3,128.9 675.4,138.6 675.5,130.8 675.6,132.1 675.7,132.3 675.8,135.7 675.9,130.6 676.0,129.0 676.1,129.4 676.2,132.6 676.3,130.7 676.5,130.1 676.6,127.7 676.7,129.4 676.8,132.5 676.9,132.7 677.0,132.6 677.1,132.4 677.2,134.4 677.3,130.8 677.4,134.8 677.5,135.0 677.6,131.7 677.7,134.2 677.8,133.2 677.9,138.3 678.0,130.4 678.1,132.7 678.2,133.1 678.3,131.7 678.4,132.6 678.5,135.4 678.6,128.1 678.7,135.2 678.8,131.4 678.9,129.3 679.0,136.2 679.1,134.4 679.2,136.9 679.3,131.8 679.4,135.6 679.5,137.7 679.6,130.9 679.7,131.9 679.8,136.7 679.9,130.9 680.0,133.5 680.1,126.5 680.2,129.2 680.3,135.4 680.4,134.7 680.5,136.4 680.6,133.6 680.7,133.9 680.8,132.0 680.9,133.9 681.0,138.3 681.1,136.6 681.2,130.5 681.3,131.3 681.4,135.0" fill="none" stroke="#0000ff" stroke-width="0.9" stroke-linejoin="round"/>
<rect x="399.80" y="8.0" width="108.30" height="141.2" fill="rgb(120,225,130)" fill-opacity="0.280"/>
<rect x="508.10" y="8.0" width="43.32" height="141.2" fill="rgb(252,224,112)" fill-opacity="0.286"/>
<rect x="551.42" y="8.0" width="21.66" height="141.2" fill="rgb(175,147,231)" fill-opacity="0.286"/>
<rect x="573.08" y="8.0" width="108.30" height="141.2" fill="rgb(120,225,130)" fill-opacity="0.280"/>
</g>
<rect x="399.8" y="8.0" width="281.8" height="141.2" fill="none" stroke="#262626" stroke-width="1.0"/>
<line x1="399.8" y1="149.2" x2="399.8" y2="152.7" stroke="#262626" stroke-width="0.9"/>
<text x="399.8" y="164.6" font-size="11.4" font-family="Liberation Sans" text-anchor="middle" textLength="17.2" lengthAdjust="spacingAndGlyphs" fill="#262626">0.0</text>
<line x1="443.1" y1="149.2" x2="443.1" y2="152.7" stroke="#262626" stroke-width="0.9"/>
<text x="443.1" y="164.6" font-size="11.4" font-family="Liberation Sans" text-anchor="middle" textLength="17.2" lengthAdjust="spacingAndGlyphs" fill="#262626">0.2</text>
<line x1="486.4" y1="149.2" x2="486.4" y2="152.7" stroke="#262626" stroke-width="0.9"/>
<text x="486.4" y="164.6" font-size="11.4" font-family="Liberation Sans" text-anchor="middle" textLength="17.2" lengthAdjust="spacingAndGlyphs" fill="#262626">0.4</text>
<line x1="529.8" y1="149.2" x2="529.8" y2="152.7" stroke="#262626" stroke-width="0.9"/>
<text x="529.8" y="164.6" font-size="11.4" font-family="Liberation Sans" text-anchor="middle" textLength="17.2" lengthAdjust="spacingAndGlyphs" fill="#262626">0.6</text>
<line x1="573.1" y1="149.2" x2="573.1" y2="152.7" stroke="#262626" stroke-width="0.9"/>
<text x="573.1" y="164.6" font-size="11.4" font-family="Liberation Sans" text-anchor="middle" textLength="17.2" lengthAdjust="spacingAndGlyphs" fill="#262626">0.8</text>
<line x1="616.4" y1="149.2" x2="616.4" y2="152.7" stroke="#262626" stroke-width="0.9"/>
<text x="616.4" y="164.6" font-size="11.4" font-family="Liberation Sans" text-anchor="middle" textLength="17.2" lengthAdjust="spacingAndGlyphs" fill="#262626">1.0</text>
<line x1="659.7" y1="149.2" x2="659.7" y2="152.7" stroke="#262626" stroke-width="0.9"/>
<text x="659.7" y="164.6" font-size="11.4" font-family="Liberation Sans" text-anchor="middle" textLength="17.2" lengthAdjust="spacingAndGlyphs" fill="#262626">1.2</text>
<line x1="396.3" y1="135.5" x2="399.8" y2="135.5" stroke="#262626" stroke-width="0.9"/>
<text x="392.6" y="139.5" font-size="11.4" font-family="Liberation Sans" text-anchor="end" textLength="6.9" lengthAdjust="spacingAndGlyphs" fill="#262626">1</text>
<line x1="396.3" y1="101.9" x2="399.8" y2="101.9" stroke="#262626" stroke-width="0.9"/>
<text x="392.6" y="105.9" font-size="11.4" font-family="Liberation Sans" text-anchor="end" textLength="6.9" lengthAdjust="spacingAndGlyphs" fill="#262626">2</text>
<line x1="396.3" y1="68.3" x2="399.8" y2="68.3" stroke="#262626" stroke-width="0.9"/>
<text x="392.6" y="72.3" font-size="11.4" font-family="Liberation Sans" text-anchor="end" textLength="6.9" lengthAdjust="spacingAndGlyphs" fill="#262626">3</text>
<line x1="396.3" y1="34.7" x2="399.8" y2="34.7" stroke="#262626" stroke-width="0.9"/>
<text x="392.6" y="38.7" font-size="11.4" font-family="Liberation Sans" text-anchor="end" textLength="6.9" lengthAdjust="spacingAndGlyphs" fill="#262626">4</text>
<text x="475.5" y="181.4" font-size="13.7" font-family="Liberation Sans" textLength="130.8" lengthAdjust="spacingAndGlyphs" fill="#1a1a1a">Simulation time (µs)</text>
<text transform="translate(376.8 80.4) rotate(-90)" x="0" y="0" font-size="13.5" font-family="Liberation Sans" text-anchor="middle" textLength="58.7" lengthAdjust="spacingAndGlyphs">RMSD (Å)</text>
<text x="431.5" y="19.2" font-size="10.4" font-family="Liberation Serif" textLength="55.4" lengthAdjust="spacingAndGlyphs" fill="#111">Equilibration</text>
<text x="510.5" y="19.2" font-size="10.4" font-family="Liberation Serif" textLength="22.5" lengthAdjust="spacingAndGlyphs" fill="#111">SMD</text>
<text x="541.4" y="19.2" font-size="10.4" font-family="Liberation Serif" textLength="41.1" lengthAdjust="spacingAndGlyphs" fill="#111">Releasing</text>
<text x="598.6" y="19.2" font-size="10.4" font-family="Liberation Serif" textLength="55.1" lengthAdjust="spacingAndGlyphs" fill="#111">Equilibration</text>
<text x="350.9" y="9.8" font-size="14.2" font-family="Liberation Sans" textLength="8.3" lengthAdjust="spacingAndGlyphs">B</text>
<defs>
<clipPath id="cC"><rect x="49.9" y="207.0" width="279.7" height="141.2"/></clipPath>
</defs>
<g clip-path="url(#cC)">
<polygon points="49.9,220.8 50.4,220.4 50.9,221.1 51.4,227.4 51.9,225.0 52.4,223.0 52.9,219.6 53.4,223.2 53.9,231.4 54.4,222.8 54.9,219.2 55.4,214.6 55.9,217.5 56.4,210.9 56.9,217.3 57.4,219.4 57.9,222.5 58.4,233.4 58.9,224.1 59.4,225.7 59.9,231.5 60.4,228.0 60.9,229.8 61.4,234.0 61.9,232.5 62.4,233.3 62.9,231.5 63.4,234.2 63.9,229.2 64.4,239.0 64.9,231.0 65.4,236.3 65.9,229.4 66.4,222.5 66.9,222.5 67.4,222.3 67.9,221.6 68.4,215.3 68.9,226.9 69.4,218.0 69.9,228.6 70.4,224.8 70.9,222.7 71.4,227.5 71.9,222.4 72.4,219.1 72.9,226.4 73.4,220.9 73.9,221.5 74.4,227.5 74.9,218.9 75.4,220.8 75.9,210.9 76.4,220.2 76.9,209.1 77.4,220.0 77.9,211.6 78.4,220.2 78.9,222.0 79.4,220.9 79.9,220.8 80.4,219.2 80.9,218.2 81.4,227.1 81.9,230.3 82.4,232.7 82.9,225.1 83.4,219.5 83.9,220.4 84.4,221.0 84.9,222.7 85.4,223.4 85.9,220.9 86.4,217.2 86.9,226.6 87.4,216.3 87.9,226.6 88.4,221.8 88.9,224.6 89.4,224.2 89.9,227.6 90.4,227.8 90.9,223.2 91.4,226.9 91.9,212.2 92.4,225.9 92.9,228.4 93.4,229.2 93.9,231.6 94.4,233.9 94.9,223.7 95.4,219.2 95.9,226.6 96.4,221.2 96.9,228.8 97.4,225.6 97.9,224.3 98.4,223.2 98.9,223.0 99.4,228.2 99.9,221.4 100.4,227.1 100.9,223.4 101.4,222.4 101.9,228.0 102.4,233.2 102.9,225.1 103.4,232.5 103.9,231.1 104.4,231.5 104.9,222.7 105.4,227.2 105.9,235.8 106.4,224.9 106.9,219.9 107.4,221.3 107.9,231.2 108.4,227.4 108.9,224.7 109.4,222.5 109.9,225.8 110.4,230.3 110.9,221.3 111.4,220.5 111.9,228.2 112.4,224.5 112.9,222.8 113.4,224.8 113.9,222.8 114.4,221.3 114.9,222.0 115.4,224.6 115.9,229.7 116.4,220.6 116.9,216.4 117.4,213.1 117.9,221.7 118.4,222.0 118.9,215.9 119.4,216.7 119.9,222.9 120.4,222.8 120.9,230.8 121.4,226.5 122.0,234.1 122.5,232.1 123.0,232.4 123.5,233.9 124.0,240.3 124.5,235.1 125.0,229.9 125.5,231.1 126.0,231.7 126.5,227.2 127.0,225.3 127.5,223.5 128.0,229.4 128.5,224.6 129.0,225.2 129.5,227.0 130.0,229.2 130.5,221.9 131.0,223.0 131.5,207.4 132.0,215.6 132.5,215.2 133.0,215.5 133.5,205.4 134.0,217.5 134.5,213.7 135.0,215.9 135.5,212.4 136.0,211.0 136.5,205.5 137.0,217.1 137.5,212.4 138.0,206.4 138.5,216.2 139.0,215.4 139.5,219.1 140.0,224.2 140.5,216.3 141.0,211.2 141.5,219.0 142.0,225.3 142.5,215.9 143.0,216.5 143.5,212.7 144.0,213.8 144.5,219.2 145.0,215.7 145.5,224.5 146.0,211.5 146.5,215.8 147.0,212.3 147.5,212.7 148.0,218.5 148.5,217.4 149.0,219.9 149.5,224.0 150.0,215.1 150.5,213.1 151.0,218.5 151.5,211.7 152.0,215.8 152.5,215.1 153.0,220.7 153.5,225.6 154.0,215.7 154.5,218.1 155.0,223.1 155.5,225.8 156.0,226.3 156.5,226.9 157.0,229.8 157.5,236.7 158.0,229.8 158.5,238.4 159.0,236.4 159.5,237.5 160.0,237.3 160.5,242.2 161.0,238.2 161.5,240.4 162.0,241.3 162.5,241.2 163.0,244.6 163.5,246.7 164.0,244.1 164.5,243.6 165.0,244.5 165.5,247.3 166.0,247.3 166.5,247.6 167.0,251.4 167.5,250.9 168.0,251.8 168.5,249.9 169.0,253.7 169.5,251.4 170.0,254.0 170.5,257.0 171.0,252.8 171.5,258.3 172.0,257.3 172.5,256.9 173.0,260.9 173.5,262.6 174.0,260.4 174.5,262.4 175.0,264.7 175.5,265.1 176.0,265.0 176.5,264.1 177.0,266.8 177.5,266.5 178.0,266.2 178.5,268.0 179.0,269.1 179.5,270.5 180.0,275.1 180.5,271.9 181.0,274.0 181.5,275.7 182.0,278.1 182.5,279.8 183.0,280.3 183.5,280.0 184.0,282.8 184.5,283.5 185.0,284.4 185.5,283.6 186.0,285.7 186.5,286.1 187.0,284.8 187.5,287.7 188.0,287.2 188.5,290.1 189.0,289.1 189.5,290.3 190.0,291.1 190.5,293.0 191.0,294.7 191.5,294.5 192.0,295.6 192.5,294.6 193.0,295.9 193.5,299.7 194.0,298.3 194.5,300.7 195.0,300.5 195.5,302.9 196.0,305.3 196.5,302.9 197.0,304.4 197.5,307.3 198.0,308.9 198.5,307.8 199.0,309.2 199.5,308.3 200.0,306.8 200.5,305.3 201.0,308.4 201.5,305.7 202.0,306.4 202.5,309.7 203.0,312.6 203.5,308.1 204.0,308.8 204.5,304.9 205.0,306.4 205.5,307.2 206.0,304.7 206.5,310.9 207.0,308.1 207.5,309.3 208.0,304.4 208.5,307.5 209.0,314.4 209.5,306.4 210.0,313.0 210.5,308.9 211.0,312.4 211.5,310.5 212.0,309.5 212.5,310.5 213.0,313.2 213.5,305.4 214.0,307.7 214.5,308.6 215.0,306.6 215.5,311.0 216.0,303.6 216.5,308.1 217.0,305.9 217.5,304.4 218.0,307.6 218.5,307.9 219.0,302.6 219.5,301.9 220.0,298.7 220.5,302.4 221.0,308.7 221.5,304.2 222.0,304.3 222.5,304.2 223.0,306.1 223.5,310.3 224.0,299.9 224.5,305.7 225.0,300.3 225.5,307.9 226.0,299.0 226.5,304.3 227.0,297.1 227.5,294.1 228.0,295.8 228.5,304.4 229.0,304.3 229.5,305.3 230.0,300.4 230.5,301.2 231.0,300.9 231.5,300.1 232.0,299.9 232.5,300.2 233.0,295.9 233.5,301.3 234.0,299.0 234.5,305.2 235.0,301.7 235.5,298.7 236.0,300.9 236.5,296.7 237.0,294.6 237.5,300.5 238.0,300.6 238.5,300.1 239.0,297.2 239.5,299.1 240.0,295.1 240.5,295.4 241.0,295.7 241.5,295.3 242.0,299.5 242.5,300.4 243.0,295.0 243.5,301.5 244.0,298.1 244.5,300.1 245.0,300.7 245.5,299.6 246.0,300.3 246.5,297.2 247.0,299.4 247.5,298.4 248.0,291.9 248.5,296.7 249.0,292.3 249.5,296.3 250.0,295.3 250.5,301.9 251.0,300.3 251.5,292.7 252.0,300.8 252.5,301.1 253.0,304.5 253.5,302.0 254.0,308.4 254.5,305.7 255.0,300.1 255.5,298.6 256.0,303.8 256.5,304.3 257.0,306.5 257.5,307.2 258.0,311.6 258.5,312.9 259.0,308.7 259.5,316.4 260.0,315.3 260.5,315.0 261.0,315.9 261.5,310.0 262.0,312.2 262.5,311.8 263.0,316.6 263.5,315.9 264.0,310.2 264.5,309.2 265.1,311.4 265.6,308.4 266.1,309.8 266.6,310.7 267.1,305.5 267.6,312.3 268.1,308.3 268.6,307.6 269.1,310.1 269.6,314.6 270.1,309.1 270.6,311.4 271.1,311.9 271.6,311.1 272.1,310.4 272.6,313.6 273.1,309.8 273.6,319.0 274.1,313.6 274.6,318.7 275.1,312.9 275.6,308.2 276.1,312.5 276.6,314.5 277.1,311.5 277.6,315.0 278.1,316.0 278.6,315.8 279.1,307.9 279.6,310.2 280.1,310.3 280.6,316.3 281.1,310.4 281.6,319.0 282.1,313.4 282.6,319.0 283.1,307.0 283.6,320.2 284.1,309.9 284.6,312.0 285.1,321.2 285.6,314.4 286.1,307.6 286.6,309.6 287.1,322.1 287.6,320.0 288.1,323.3 288.6,322.5 289.1,320.9 289.6,312.2 290.1,319.2 290.6,321.0 291.1,321.4 291.6,317.7 292.1,317.3 292.6,322.6 293.1,313.1 293.6,322.0 294.1,318.7 294.6,316.0 295.1,311.3 295.6,319.0 296.1,316.4 296.6,311.8 297.1,313.1 297.6,310.4 298.1,310.5 298.6,313.4 299.1,312.3 299.6,311.7 300.1,315.8 300.6,309.8 301.1,322.4 301.6,317.9 302.1,308.0 302.6,310.1 303.1,312.3 303.6,307.0 304.1,303.2 304.6,308.3 305.1,303.0 305.6,306.7 306.1,307.8 306.6,308.7 307.1,304.9 307.6,313.1 308.1,310.1 308.6,306.5 309.1,314.0 309.6,315.3 310.1,306.3 310.6,307.1 311.1,307.0 311.6,306.6 312.1,312.5 312.6,300.0 313.1,315.7 313.6,314.6 314.1,318.5 314.6,314.5 315.1,306.7 315.6,311.6 316.1,308.5 316.6,311.5 317.1,302.7 317.6,309.3 318.1,315.2 318.6,308.0 319.1,311.9 319.6,307.8 320.1,309.2 320.6,308.4 321.1,308.5 321.6,312.3 322.1,314.5 322.6,305.1 323.1,308.7 323.6,306.8 324.1,309.4 324.6,314.6 325.1,312.2 325.6,302.9 326.1,311.6 326.6,310.3 327.1,314.0 327.6,310.1 328.1,309.7 328.6,309.7 329.1,309.6 329.6,311.7 329.6,330.0 329.1,327.1 328.6,335.2 328.1,323.8 327.6,330.5 327.1,330.2 326.6,328.5 326.1,333.2 325.6,326.4 325.1,332.7 324.6,330.9 324.1,324.1 323.6,330.2 323.1,331.3 322.6,332.0 322.1,331.3 321.6,323.8 321.1,322.4 320.6,325.8 320.1,331.3 319.6,327.9 319.1,327.8 318.6,337.1 318.1,330.5 317.6,327.4 317.1,333.6 316.6,332.3 316.1,329.0 315.6,332.0 315.1,338.3 314.6,331.8 314.1,337.4 313.6,329.9 313.1,332.0 312.6,331.6 312.1,328.5 311.6,326.2 311.1,326.7 310.6,325.8 310.1,334.0 309.6,322.9 309.1,335.8 308.6,324.0 308.1,330.2 307.6,332.0 307.1,331.6 306.6,330.5 306.1,328.4 305.6,325.9 305.1,329.6 304.6,322.1 304.1,323.5 303.6,326.2 303.1,336.5 302.6,338.8 302.1,335.9 301.6,329.3 301.1,342.0 300.6,330.1 300.1,348.6 299.6,337.7 299.1,328.6 298.6,339.5 298.1,334.7 297.6,334.5 297.1,338.6 296.6,338.8 296.1,341.7 295.6,341.2 295.1,340.4 294.6,340.1 294.1,338.1 293.6,336.9 293.1,340.4 292.6,341.4 292.1,339.7 291.6,342.5 291.1,340.9 290.6,342.1 290.1,349.5 289.6,339.6 289.1,340.9 288.6,345.0 288.1,336.9 287.6,338.1 287.1,341.9 286.6,335.9 286.1,332.7 285.6,336.2 285.1,338.0 284.6,329.4 284.1,336.1 283.6,335.5 283.1,344.0 282.6,329.0 282.1,337.5 281.6,335.9 281.1,332.5 280.6,334.2 280.1,325.6 279.6,332.7 279.1,332.5 278.6,335.8 278.1,334.1 277.6,333.1 277.1,337.7 276.6,332.0 276.1,331.1 275.6,330.7 275.1,333.4 274.6,334.7 274.1,338.7 273.6,338.8 273.1,333.8 272.6,333.1 272.1,329.5 271.6,329.7 271.1,338.2 270.6,336.2 270.1,335.8 269.6,337.6 269.1,331.0 268.6,334.2 268.1,332.5 267.6,328.7 267.1,332.6 266.6,334.2 266.1,332.7 265.6,324.7 265.1,330.3 264.5,332.4 264.0,325.7 263.5,339.8 263.0,329.8 262.5,333.1 262.0,332.6 261.5,330.9 261.0,337.5 260.5,331.6 260.0,329.4 259.5,332.4 259.0,332.2 258.5,332.3 258.0,322.7 257.5,326.8 257.0,323.6 256.5,326.6 256.0,318.1 255.5,321.9 255.0,322.6 254.5,320.1 254.0,328.5 253.5,327.9 253.0,332.9 252.5,320.1 252.0,320.9 251.5,323.0 251.0,318.5 250.5,321.7 250.0,318.8 249.5,320.2 249.0,315.9 248.5,314.8 248.0,320.8 247.5,317.2 247.0,314.9 246.5,322.6 246.0,313.1 245.5,318.1 245.0,325.2 244.5,321.7 244.0,319.4 243.5,317.3 243.0,332.7 242.5,322.2 242.0,323.5 241.5,318.4 241.0,314.4 240.5,320.4 240.0,311.7 239.5,316.2 239.0,319.0 238.5,317.9 238.0,320.2 237.5,320.5 237.0,320.7 236.5,314.6 236.0,314.1 235.5,322.0 235.0,315.1 234.5,320.4 234.0,321.8 233.5,320.7 233.0,321.6 232.5,325.4 232.0,319.2 231.5,321.6 231.0,323.9 230.5,330.2 230.0,320.9 229.5,324.4 229.0,324.5 228.5,323.0 228.0,321.4 227.5,314.3 227.0,318.3 226.5,315.2 226.0,329.3 225.5,323.8 225.0,324.1 224.5,328.4 224.0,323.6 223.5,326.9 223.0,325.8 222.5,329.6 222.0,325.8 221.5,329.7 221.0,323.5 220.5,323.3 220.0,324.9 219.5,322.0 219.0,326.7 218.5,325.3 218.0,324.8 217.5,328.7 217.0,326.1 216.5,331.3 216.0,328.1 215.5,323.7 215.0,321.6 214.5,324.7 214.0,331.2 213.5,322.3 213.0,324.0 212.5,329.4 212.0,329.1 211.5,327.4 211.0,323.0 210.5,328.9 210.0,324.8 209.5,326.6 209.0,327.9 208.5,326.0 208.0,324.4 207.5,321.0 207.0,321.6 206.5,322.1 206.0,319.7 205.5,325.6 205.0,320.2 204.5,323.0 204.0,321.6 203.5,320.9 203.0,321.5 202.5,319.4 202.0,317.7 201.5,320.1 201.0,318.0 200.5,317.0 200.0,313.5 199.5,315.1 199.0,316.9 198.5,315.3 198.0,314.2 197.5,314.9 197.0,310.6 196.5,312.2 196.0,313.9 195.5,307.8 195.0,308.9 194.5,308.0 194.0,306.3 193.5,305.6 193.0,305.8 192.5,303.2 192.0,303.9 191.5,302.0 191.0,301.8 190.5,300.9 190.0,302.8 189.5,299.5 189.0,295.0 188.5,297.7 188.0,294.9 187.5,296.5 187.0,296.2 186.5,294.2 186.0,293.6 185.5,293.2 185.0,290.4 184.5,291.3 184.0,288.5 183.5,289.2 183.0,286.8 182.5,287.9 182.0,285.0 181.5,281.9 181.0,280.8 180.5,284.0 180.0,281.7 179.5,280.0 179.0,280.2 178.5,278.1 178.0,275.9 177.5,275.1 177.0,273.5 176.5,272.4 176.0,270.0 175.5,272.8 175.0,270.9 174.5,267.4 174.0,267.4 173.5,270.6 173.0,271.3 172.5,268.5 172.0,266.1 171.5,262.9 171.0,260.7 170.5,260.3 170.0,262.5 169.5,260.3 169.0,257.8 168.5,259.8 168.0,257.6 167.5,259.3 167.0,258.4 166.5,257.1 166.0,257.1 165.5,254.2 165.0,251.5 164.5,251.4 164.0,254.1 163.5,251.5 163.0,250.5 162.5,250.3 162.0,249.4 161.5,249.7 161.0,251.8 160.5,250.3 160.0,252.8 159.5,251.0 159.0,249.9 158.5,253.2 158.0,249.4 157.5,254.3 157.0,241.8 156.5,256.2 156.0,248.5 155.5,248.8 155.0,239.7 154.5,247.1 154.0,249.6 153.5,245.8 153.0,241.8 152.5,246.7 152.0,252.4 151.5,239.9 151.0,240.6 150.5,240.0 150.0,236.4 149.5,234.9 149.0,242.8 148.5,243.1 148.0,241.6 147.5,241.9 147.0,239.3 146.5,240.9 146.0,245.7 145.5,240.1 145.0,245.0 144.5,242.5 144.0,248.1 143.5,246.9 143.0,242.5 142.5,247.7 142.0,243.9 141.5,238.8 141.0,244.5 140.5,244.3 140.0,242.5 139.5,235.5 139.0,240.9 138.5,242.9 138.0,237.0 137.5,239.7 137.0,237.4 136.5,234.1 136.0,240.2 135.5,236.6 135.0,231.6 134.5,239.4 134.0,239.3 133.5,232.4 133.0,238.6 132.5,236.4 132.0,233.9 131.5,241.4 131.0,240.4 130.5,238.0 130.0,253.4 129.5,247.9 129.0,240.0 128.5,249.2 128.0,253.3 127.5,250.2 127.0,252.2 126.5,248.2 126.0,254.3 125.5,253.5 125.0,254.6 124.5,261.5 124.0,260.0 123.5,261.2 123.0,263.3 122.5,257.6 122.0,257.8 121.4,247.7 120.9,250.8 120.4,249.3 119.9,250.2 119.4,257.7 118.9,241.7 118.4,246.3 117.9,252.1 117.4,247.6 116.9,246.3 116.4,241.3 115.9,243.2 115.4,240.2 114.9,245.6 114.4,249.9 113.9,254.3 113.4,247.6 112.9,252.2 112.4,247.3 111.9,244.3 111.4,240.8 110.9,248.2 110.4,252.6 109.9,255.8 109.4,246.7 108.9,250.5 108.4,252.8 107.9,253.3 107.4,249.9 106.9,256.6 106.4,259.8 105.9,250.1 105.4,248.0 104.9,254.6 104.4,256.0 103.9,258.8 103.4,245.9 102.9,250.6 102.4,252.7 101.9,253.7 101.4,247.3 100.9,251.2 100.4,247.0 99.9,252.9 99.4,250.4 98.9,251.2 98.4,243.3 97.9,253.2 97.4,250.5 96.9,239.7 96.4,255.0 95.9,248.8 95.4,246.3 94.9,242.9 94.4,258.3 93.9,256.6 93.4,246.0 92.9,246.8 92.4,245.4 91.9,251.4 91.4,242.9 90.9,247.7 90.4,253.0 89.9,240.9 89.4,238.8 88.9,243.3 88.4,247.3 87.9,244.3 87.4,245.5 86.9,235.8 86.4,248.1 85.9,239.3 85.4,252.0 84.9,243.8 84.4,245.3 83.9,240.1 83.4,251.0 82.9,246.5 82.4,247.8 81.9,244.8 81.4,249.2 80.9,253.1 80.4,244.2 79.9,254.6 79.4,247.4 78.9,250.1 78.4,249.4 77.9,240.5 77.4,244.2 76.9,242.2 76.4,232.6 75.9,246.7 75.4,241.5 74.9,238.9 74.4,244.8 73.9,240.4 73.4,244.3 72.9,247.1 72.4,241.7 71.9,261.4 71.4,253.0 70.9,248.6 70.4,245.8 69.9,246.3 69.4,246.8 68.9,244.2 68.4,250.5 67.9,242.6 67.4,248.2 66.9,243.8 66.4,245.3 65.9,254.5 65.4,252.0 64.9,260.0 64.4,254.7 63.9,265.5 63.4,262.0 62.9,258.4 62.4,257.6 61.9,255.1 61.4,260.9 60.9,261.9 60.4,257.3 59.9,248.1 59.4,249.2 58.9,260.2 58.4,250.9 57.9,244.6 57.4,249.8 56.9,253.7 56.4,241.3 55.9,247.8 55.4,240.6 54.9,238.3 54.4,241.8 53.9,251.7 53.4,245.2 52.9,249.4 52.4,249.6 51.9,255.7 51.4,246.9 50.9,248.5 50.4,246.7 49.9,244.1" fill="#0000ff" fill-opacity="0.27"/>
<polyline points="49.9,229.8 50.4,237.2 50.9,235.4 51.4,232.7 51.9,236.7 52.4,238.1 52.9,237.4 53.4,236.1 53.9,233.3 54.4,236.7 54.9,232.9 55.4,228.5 55.9,235.3 56.4,231.3 56.9,235.3 57.4,240.6 57.9,238.4 58.4,241.8 58.9,237.0 59.4,244.6 59.9,237.6 60.4,241.2 60.9,251.0 61.4,242.6 61.9,240.9 62.4,248.5 62.9,241.6 63.4,249.7 63.9,241.3 64.4,246.0 64.9,237.3 65.4,243.6 65.9,245.7 66.4,235.1 66.9,228.3 67.4,237.6 67.9,232.6 68.4,235.0 68.9,236.6 69.4,233.5 69.9,230.0 70.4,239.7 70.9,234.1 71.4,235.4 71.9,241.8 72.4,231.7 72.9,230.0 73.4,238.7 73.9,228.4 74.4,232.7 74.9,232.4 75.4,226.2 75.9,230.3 76.4,230.1 76.9,226.4 77.4,227.9 77.9,230.4 78.4,239.1 78.9,240.4 79.4,232.0 79.9,239.3 80.4,236.1 80.9,240.7 81.4,237.5 81.9,240.8 82.4,230.7 82.9,239.1 83.4,235.5 83.9,235.1 84.4,229.7 84.9,237.9 85.4,232.6 85.9,232.5 86.4,229.4 86.9,229.6 87.4,233.4 87.9,231.9 88.4,234.8 88.9,232.7 89.4,235.3 89.9,237.7 90.4,235.9 90.9,234.9 91.4,229.0 91.9,238.9 92.4,236.9 92.9,233.0 93.4,244.2 93.9,242.0 94.4,239.3 94.9,235.4 95.4,226.8 95.9,233.5 96.4,230.4 96.9,234.9 97.4,242.6 97.9,242.8 98.4,232.5 98.9,236.0 99.4,241.4 99.9,233.6 100.4,242.8 100.9,234.3 101.4,233.8 101.9,241.8 102.4,243.4 102.9,236.9 103.4,243.3 103.9,236.4 104.4,242.9 104.9,235.7 105.4,237.8 105.9,239.7 106.4,242.0 106.9,238.8 107.4,246.1 107.9,240.4 108.4,240.2 108.9,236.5 109.4,243.2 109.9,233.3 110.4,239.8 110.9,241.9 111.4,232.5 111.9,230.4 112.4,235.9 112.9,238.3 113.4,235.9 113.9,239.2 114.4,239.0 114.9,233.4 115.4,237.3 115.9,237.4 116.4,235.7 116.9,236.0 117.4,232.2 117.9,231.7 118.4,236.3 118.9,236.0 119.4,229.9 119.9,238.3 120.4,241.7 120.9,235.2 121.4,242.6 122.0,246.6 122.5,240.9 123.0,246.5 123.5,245.3 124.0,242.4 124.5,243.5 125.0,245.0 125.5,243.8 126.0,243.7 126.5,237.6 127.0,243.4 127.5,242.1 128.0,232.7 128.5,241.3 129.0,234.5 129.5,233.3 130.0,236.4 130.5,238.6 131.0,230.1 131.5,227.3 132.0,225.6 132.5,228.6 133.0,224.7 133.5,223.6 134.0,231.1 134.5,221.8 135.0,225.0 135.5,226.5 136.0,225.0 136.5,217.3 137.0,220.3 137.5,230.3 138.0,224.7 138.5,226.0 139.0,226.4 139.5,227.7 140.0,231.1 140.5,223.8 141.0,230.5 141.5,229.2 142.0,230.5 142.5,231.2 143.0,226.5 143.5,227.8 144.0,231.5 144.5,232.6 145.0,231.0 145.5,226.0 146.0,228.7 146.5,228.5 147.0,230.3 147.5,230.0 148.0,228.1 148.5,234.5 149.0,222.5 149.5,230.2 150.0,229.2 150.5,222.3 151.0,225.3 151.5,226.3 152.0,229.0 152.5,233.2 153.0,228.5 153.5,226.4 154.0,234.8 154.5,228.7 155.0,238.3 155.5,238.1 156.0,235.2 156.5,237.5 157.0,236.1 157.5,240.2 158.0,241.2 158.5,243.5 159.0,242.9 159.5,243.5 160.0,244.9 160.5,243.3 161.0,245.3 161.5,247.2 162.0,243.9 162.5,247.4 163.0,248.5 163.5,247.0 164.0,247.5 164.5,249.8 165.0,250.4 165.5,250.5 166.0,249.6 166.5,251.9 167.0,253.4 167.5,253.8 168.0,253.7 168.5,256.7 169.0,256.7 169.5,258.5 170.0,256.6 170.5,257.9 171.0,259.6 171.5,261.3 172.0,261.4 172.5,264.3 173.0,263.0 173.5,265.1 174.0,266.0 174.5,266.3 175.0,266.9 175.5,267.1 176.0,267.9 176.5,269.1 177.0,271.0 177.5,270.7 178.0,272.4 178.5,272.4 179.0,275.2 179.5,277.8 180.0,276.9 180.5,275.8 181.0,278.3 181.5,280.0 182.0,280.1 182.5,281.5 183.0,282.5 183.5,284.3 184.0,284.8 184.5,285.8 185.0,287.7 185.5,289.2 186.0,289.1 186.5,289.3 187.0,290.4 187.5,291.3 188.0,292.2 188.5,291.3 189.0,294.1 189.5,294.3 190.0,294.3 190.5,296.8 191.0,297.5 191.5,297.8 192.0,298.2 192.5,300.1 193.0,300.8 193.5,301.9 194.0,303.8 194.5,302.8 195.0,304.8 195.5,307.0 196.0,306.6 196.5,308.8 197.0,309.0 197.5,309.0 198.0,310.7 198.5,309.9 199.0,313.1 199.5,312.1 200.0,312.4 200.5,311.7 201.0,312.2 201.5,313.2 202.0,313.8 202.5,314.7 203.0,313.4 203.5,317.2 204.0,315.6 204.5,316.8 205.0,316.0 205.5,316.7 206.0,311.4 206.5,317.1 207.0,315.2 207.5,315.5 208.0,315.3 208.5,316.2 209.0,316.5 209.5,315.3 210.0,321.2 210.5,317.4 211.0,320.4 211.5,316.6 212.0,320.5 212.5,320.8 213.0,319.3 213.5,316.0 214.0,318.0 214.5,317.9 215.0,313.7 215.5,319.5 216.0,322.5 216.5,317.7 217.0,317.5 217.5,313.1 218.0,310.2 218.5,320.7 219.0,308.8 219.5,311.7 220.0,314.3 220.5,316.4 221.0,310.0 221.5,318.2 222.0,320.3 222.5,317.9 223.0,322.0 223.5,314.4 224.0,314.8 224.5,312.2 225.0,311.5 225.5,316.2 226.0,308.3 226.5,315.8 227.0,308.3 227.5,315.1 228.0,307.4 228.5,311.1 229.0,309.0 229.5,312.4 230.0,318.1 230.5,314.4 231.0,309.8 231.5,307.5 232.0,314.4 232.5,316.8 233.0,312.7 233.5,310.2 234.0,311.1 234.5,311.1 235.0,305.1 235.5,304.6 236.0,305.4 236.5,311.1 237.0,307.9 237.5,309.1 238.0,313.4 238.5,305.7 239.0,308.2 239.5,310.2 240.0,304.2 240.5,307.2 241.0,307.6 241.5,307.0 242.0,308.8 242.5,315.7 243.0,313.1 243.5,308.5 244.0,314.4 244.5,311.5 245.0,310.1 245.5,306.5 246.0,306.7 246.5,307.6 247.0,310.5 247.5,305.9 248.0,306.4 248.5,308.2 249.0,303.6 249.5,307.3 250.0,312.5 250.5,306.8 251.0,312.8 251.5,310.7 252.0,318.3 252.5,313.5 253.0,316.7 253.5,316.7 254.0,319.8 254.5,306.0 255.0,313.5 255.5,312.3 256.0,310.0 256.5,315.1 257.0,313.9 257.5,321.0 258.0,316.4 258.5,319.0 259.0,316.6 259.5,318.5 260.0,324.5 260.5,326.6 261.0,324.1 261.5,318.3 262.0,319.3 262.5,319.1 263.0,326.7 263.5,328.3 264.0,320.7 264.5,319.4 265.1,320.4 265.6,317.7 266.1,320.2 266.6,324.3 267.1,323.5 267.6,320.1 268.1,320.3 268.6,321.0 269.1,313.7 269.6,322.8 270.1,321.9 270.6,325.8 271.1,323.5 271.6,320.3 272.1,319.6 272.6,321.4 273.1,319.1 273.6,320.3 274.1,327.2 274.6,332.4 275.1,313.9 275.6,318.8 276.1,321.4 276.6,326.7 277.1,325.2 277.6,317.1 278.1,332.1 278.6,324.9 279.1,321.6 279.6,324.0 280.1,321.4 280.6,324.0 281.1,315.7 281.6,328.0 282.1,330.1 282.6,325.0 283.1,321.0 283.6,325.7 284.1,321.8 284.6,327.3 285.1,329.7 285.6,321.2 286.1,320.5 286.6,320.7 287.1,327.7 287.6,330.7 288.1,331.5 288.6,328.9 289.1,326.6 289.6,327.1 290.1,334.1 290.6,329.3 291.1,330.5 291.6,330.5 292.1,330.7 292.6,330.7 293.1,327.3 293.6,328.2 294.1,327.2 294.6,329.8 295.1,325.8 295.6,327.0 296.1,333.2 296.6,324.1 297.1,326.4 297.6,322.3 298.1,325.6 298.6,325.0 299.1,323.7 299.6,324.6 300.1,326.4 300.6,331.1 301.1,318.8 301.6,329.7 302.1,324.6 302.6,320.3 303.1,320.2 303.6,318.7 304.1,317.3 304.6,315.2 305.1,318.3 305.6,309.5 306.1,322.5 306.6,318.1 307.1,319.9 307.6,320.9 308.1,318.5 308.6,315.0 309.1,322.7 309.6,322.9 310.1,317.8 310.6,317.8 311.1,312.7 311.6,316.1 312.1,319.8 312.6,322.8 313.1,321.8 313.6,323.3 314.1,326.9 314.6,321.9 315.1,322.3 315.6,322.4 316.1,323.4 316.6,316.5 317.1,319.7 317.6,318.3 318.1,322.6 318.6,323.2 319.1,320.3 319.6,318.7 320.1,321.1 320.6,320.9 321.1,317.0 321.6,318.5 322.1,321.7 322.6,318.6 323.1,318.5 323.6,315.7 324.1,320.6 324.6,317.7 325.1,315.2 325.6,317.7 326.1,321.1 326.6,320.5 327.1,318.5 327.6,317.7 328.1,316.6 328.6,319.7 329.1,323.6 329.6,314.4" fill="none" stroke="#0000ff" stroke-width="1.3" stroke-linejoin="round"/>
<rect x="49.90" y="207.0" width="107.57" height="141.2" fill="rgb(120,225,130)" fill-opacity="0.280"/>
<rect x="157.47" y="207.0" width="43.03" height="141.2" fill="rgb(252,224,112)" fill-opacity="0.286"/>
<rect x="200.50" y="207.0" width="21.52" height="141.2" fill="rgb(175,147,231)" fill-opacity="0.286"/>
<rect x="222.02" y="207.0" width="107.57" height="141.2" fill="rgb(120,225,130)" fill-opacity="0.280"/>
<line x1="49.9" y1="240.8" x2="329.6" y2="240.8" stroke="rgb(228,78,50)" stroke-width="1.9" stroke-dasharray="6.1 2.7"/>
<line x1="49.9" y1="316.6" x2="329.6" y2="316.6" stroke="rgb(30,150,34)" stroke-width="1.9" stroke-dasharray="6.1 2.7"/>
</g>
<rect x="49.9" y="207.0" width="279.7" height="141.2" fill="none" stroke="#262626" stroke-width="1.0"/>
<line x1="49.9" y1="348.2" x2="49.9" y2="351.7" stroke="#262626" stroke-width="0.9"/>
<text x="49.9" y="363.5" font-size="11.6" font-family="Liberation Sans" text-anchor="middle" textLength="17.3" lengthAdjust="spacingAndGlyphs" fill="#262626">0.0</text>
<line x1="92.9" y1="348.2" x2="92.9" y2="351.7" stroke="#262626" stroke-width="0.9"/>
<text x="92.9" y="363.5" font-size="11.6" font-family="Liberation Sans" text-anchor="middle" textLength="17.3" lengthAdjust="spacingAndGlyphs" fill="#262626">0.2</text>
<line x1="136.0" y1="348.2" x2="136.0" y2="351.7" stroke="#262626" stroke-width="0.9"/>
<text x="136.0" y="363.5" font-size="11.6" font-family="Liberation Sans" text-anchor="middle" textLength="17.3" lengthAdjust="spacingAndGlyphs" fill="#262626">0.4</text>
<line x1="179.0" y1="348.2" x2="179.0" y2="351.7" stroke="#262626" stroke-width="0.9"/>
<text x="179.0" y="363.5" font-size="11.6" font-family="Liberation Sans" text-anchor="middle" textLength="17.3" lengthAdjust="spacingAndGlyphs" fill="#262626">0.6</text>
<line x1="222.0" y1="348.2" x2="222.0" y2="351.7" stroke="#262626" stroke-width="0.9"/>
<text x="222.0" y="363.5" font-size="11.6" font-family="Liberation Sans" text-anchor="middle" textLength="17.3" lengthAdjust="spacingAndGlyphs" fill="#262626">0.8</text>
<line x1="265.1" y1="348.2" x2="265.1" y2="351.7" stroke="#262626" stroke-width="0.9"/>
<text x="265.1" y="363.5" font-size="11.6" font-family="Liberation Sans" text-anchor="middle" textLength="17.3" lengthAdjust="spacingAndGlyphs" fill="#262626">1.0</text>
<line x1="308.1" y1="348.2" x2="308.1" y2="351.7" stroke="#262626" stroke-width="0.9"/>
<text x="308.1" y="363.5" font-size="11.6" font-family="Liberation Sans" text-anchor="middle" textLength="17.3" lengthAdjust="spacingAndGlyphs" fill="#262626">1.2</text>
<line x1="46.4" y1="220.9" x2="49.9" y2="220.9" stroke="#262626" stroke-width="0.9"/>
<text x="42.4" y="224.8" font-size="11.4" font-family="Liberation Sans" text-anchor="end" textLength="6.9" lengthAdjust="spacingAndGlyphs" fill="#262626">5</text>
<line x1="46.4" y1="244.8" x2="49.9" y2="244.8" stroke="#262626" stroke-width="0.9"/>
<text x="42.4" y="248.8" font-size="11.4" font-family="Liberation Sans" text-anchor="end" textLength="6.9" lengthAdjust="spacingAndGlyphs" fill="#262626">0</text>
<line x1="46.4" y1="268.7" x2="49.9" y2="268.7" stroke="#262626" stroke-width="0.9"/>
<text x="42.4" y="272.7" font-size="11.4" font-family="Liberation Sans" text-anchor="end" textLength="15.9" lengthAdjust="spacingAndGlyphs" fill="#262626">−5</text>
<line x1="46.4" y1="292.7" x2="49.9" y2="292.7" stroke="#262626" stroke-width="0.9"/>
<text x="42.4" y="296.6" font-size="11.4" font-family="Liberation Sans" text-anchor="end" textLength="22.8" lengthAdjust="spacingAndGlyphs" fill="#262626">−10</text>
<line x1="46.4" y1="316.6" x2="49.9" y2="316.6" stroke="#262626" stroke-width="0.9"/>
<text x="42.4" y="320.5" font-size="11.4" font-family="Liberation Sans" text-anchor="end" textLength="22.8" lengthAdjust="spacingAndGlyphs" fill="#262626">−15</text>
<line x1="46.4" y1="340.5" x2="49.9" y2="340.5" stroke="#262626" stroke-width="0.9"/>
<text x="42.4" y="344.4" font-size="11.4" font-family="Liberation Sans" text-anchor="end" textLength="22.8" lengthAdjust="spacingAndGlyphs" fill="#262626">−20</text>
<text x="124.9" y="380.5" font-size="13.6" font-family="Liberation Sans" textLength="130.2" lengthAdjust="spacingAndGlyphs" fill="#1a1a1a">Simulation time (µs)</text>
<text transform="translate(12.8 280.0) rotate(-90)" x="0" y="0" font-size="13.7" font-family="Liberation Sans" text-anchor="middle" textLength="75.1" lengthAdjust="spacingAndGlyphs">Rotation (°)</text>
<text x="73.8" y="217.0" font-size="10.4" font-family="Liberation Serif" textLength="55.4" lengthAdjust="spacingAndGlyphs" fill="#111">Equilibration</text>
<text x="160.6" y="217.0" font-size="10.4" font-family="Liberation Serif" textLength="22.2" lengthAdjust="spacingAndGlyphs" fill="#111">SMD</text>
<text x="191.2" y="217.0" font-size="10.4" font-family="Liberation Serif" textLength="40.8" lengthAdjust="spacingAndGlyphs" fill="#111">Releasing</text>
<text x="248.3" y="217.0" font-size="10.4" font-family="Liberation Serif" textLength="55.4" lengthAdjust="spacingAndGlyphs" fill="#111">Equilibration</text>
<text x="0.0" y="200.0" font-size="14.2" font-family="Liberation Sans" textLength="9.4" lengthAdjust="spacingAndGlyphs">C</text>
<defs>
<clipPath id="cD"><rect x="404.2" y="203.6" width="279.9" height="141.6"/></clipPath>
</defs>
<g clip-path="url(#cD)">
<polygon points="404.2,305.3 404.7,308.5 405.2,310.5 405.7,307.5 406.2,310.8 406.7,307.8 407.2,309.1 407.7,307.6 408.2,311.1 408.7,311.9 409.2,312.5 409.7,315.6 410.2,316.3 410.7,315.7 411.2,311.9 411.7,314.9 412.2,313.0 412.7,310.2 413.2,320.1 413.7,317.1 414.2,318.1 414.7,316.3 415.2,322.1 415.7,320.7 416.2,312.2 416.7,323.7 417.2,319.3 417.7,317.6 418.2,318.2 418.7,319.7 419.2,311.1 419.7,318.3 420.2,313.8 420.7,309.9 421.2,309.0 421.7,301.3 422.2,304.7 422.7,298.2 423.2,304.9 423.7,300.3 424.2,303.5 424.7,305.5 425.2,306.3 425.7,303.1 426.2,308.9 426.7,308.7 427.2,312.7 427.7,317.6 428.2,311.2 428.7,311.3 429.2,316.6 429.7,310.7 430.2,311.9 430.7,315.9 431.2,312.1 431.7,306.8 432.2,305.4 432.7,307.3 433.2,300.4 433.7,308.8 434.2,313.4 434.7,317.4 435.2,310.3 435.7,318.3 436.2,319.0 436.7,320.7 437.2,321.1 437.7,320.3 438.2,318.1 438.7,318.0 439.2,319.0 439.7,317.5 440.3,321.2 440.8,321.2 441.3,317.1 441.8,323.1 442.3,315.4 442.8,317.5 443.3,318.0 443.8,322.9 444.3,319.8 444.8,316.0 445.3,316.6 445.8,315.5 446.3,313.0 446.8,312.9 447.3,316.1 447.8,311.0 448.3,307.1 448.8,311.9 449.3,313.9 449.8,313.3 450.3,306.0 450.8,308.6 451.3,307.1 451.8,308.8 452.3,312.5 452.8,307.3 453.3,313.2 453.8,311.8 454.3,318.2 454.8,305.6 455.3,310.2 455.8,312.8 456.3,315.1 456.8,315.1 457.3,318.9 457.8,312.5 458.3,316.6 458.8,311.8 459.3,310.1 459.8,303.9 460.3,308.7 460.8,309.6 461.3,310.4 461.8,314.4 462.3,313.0 462.8,310.9 463.3,308.5 463.8,310.4 464.3,314.1 464.8,309.2 465.3,313.1 465.8,315.7 466.3,305.8 466.8,310.6 467.3,312.5 467.8,315.3 468.3,313.2 468.8,306.6 469.3,311.3 469.8,303.3 470.3,309.3 470.8,305.6 471.3,308.6 471.8,309.8 472.3,309.9 472.8,310.0 473.3,313.9 473.8,314.9 474.3,310.0 474.8,306.5 475.3,309.1 475.8,309.2 476.3,312.1 476.8,305.4 477.3,305.1 477.8,311.9 478.3,308.5 478.8,309.8 479.3,313.2 479.8,303.7 480.3,305.4 480.8,308.1 481.3,304.1 481.8,309.4 482.3,307.1 482.8,304.6 483.3,310.3 483.8,308.5 484.3,312.2 484.8,306.7 485.3,304.2 485.8,310.0 486.3,309.4 486.8,307.9 487.3,304.1 487.8,310.1 488.3,310.8 488.8,308.2 489.3,304.2 489.8,312.6 490.3,308.6 490.8,303.9 491.3,307.8 491.8,309.1 492.3,306.9 492.8,314.2 493.3,303.7 493.8,307.2 494.3,308.8 494.8,307.2 495.3,308.3 495.8,309.8 496.3,312.8 496.8,309.3 497.3,313.4 497.8,304.1 498.3,312.1 498.8,310.6 499.3,310.0 499.8,304.3 500.3,306.1 500.8,300.9 501.3,307.8 501.8,307.6 502.3,309.4 502.8,310.7 503.3,306.4 503.8,306.4 504.3,306.6 504.8,315.2 505.3,309.4 505.8,313.2 506.3,312.9 506.8,315.0 507.3,312.3 507.8,307.5 508.3,305.3 508.8,304.4 509.3,312.1 509.8,310.7 510.3,308.5 510.8,309.7 511.3,310.4 511.9,316.0 512.4,311.9 512.9,309.6 513.4,309.6 513.9,309.9 514.4,310.9 514.9,309.7 515.4,306.6 515.9,308.6 516.4,307.2 516.9,305.3 517.4,309.0 517.9,304.8 518.4,304.0 518.9,301.6 519.4,303.7 519.9,303.2 520.4,303.7 520.9,301.9 521.4,302.1 521.9,301.2 522.4,299.7 522.9,300.4 523.4,301.0 523.9,299.9 524.4,299.8 524.9,297.7 525.4,295.7 525.9,297.5 526.4,299.3 526.9,293.9 527.4,293.8 527.9,294.1 528.4,292.1 528.9,287.6 529.4,291.7 529.9,289.1 530.4,285.1 530.9,286.4 531.4,282.3 531.9,278.6 532.4,278.3 532.9,277.9 533.4,278.5 533.9,277.5 534.4,271.6 534.9,274.8 535.4,272.0 535.9,275.8 536.4,272.7 536.9,272.0 537.4,271.6 537.9,274.3 538.4,270.7 538.9,266.6 539.4,267.5 539.9,269.2 540.4,265.6 540.9,269.2 541.4,263.7 541.9,262.5 542.4,262.5 542.9,261.7 543.4,261.8 543.9,258.6 544.4,254.7 544.9,255.4 545.4,255.1 545.9,252.8 546.4,253.9 546.9,250.8 547.4,253.9 547.9,250.3 548.4,249.2 548.9,247.4 549.4,246.5 549.9,244.2 550.4,245.4 550.9,242.0 551.4,243.0 551.9,240.0 552.4,240.2 552.9,237.9 553.4,237.6 553.9,238.5 554.4,235.3 554.9,236.1 555.4,231.3 555.9,228.9 556.4,229.0 556.9,228.0 557.4,224.8 557.9,223.7 558.4,222.0 558.9,225.9 559.4,225.6 559.9,224.0 560.4,225.6 560.9,233.5 561.4,223.7 561.9,225.3 562.4,230.9 562.9,224.1 563.4,227.5 563.9,226.6 564.4,229.3 564.9,229.3 565.4,227.9 565.9,226.1 566.4,229.0 566.9,226.7 567.4,229.3 567.9,229.8 568.4,231.2 568.9,230.9 569.4,225.5 569.9,234.1 570.4,233.6 570.9,231.0 571.4,233.5 571.9,236.6 572.4,234.0 572.9,238.2 573.4,234.2 573.9,230.2 574.4,229.4 574.9,229.8 575.4,227.7 575.9,226.1 576.4,223.9 576.9,227.2 577.4,220.9 577.9,221.6 578.4,217.1 578.9,217.8 579.4,215.6 579.9,222.5 580.4,218.1 580.9,212.0 581.4,215.6 581.9,216.9 582.4,212.3 582.9,212.6 583.4,211.3 584.0,214.7 584.5,211.9 585.0,209.3 585.5,212.2 586.0,211.4 586.5,214.7 587.0,212.0 587.5,214.5 588.0,217.0 588.5,214.6 589.0,215.0 589.5,214.7 590.0,215.7 590.5,220.2 591.0,220.5 591.5,216.9 592.0,220.4 592.5,219.0 593.0,219.8 593.5,220.8 594.0,222.7 594.5,216.7 595.0,218.1 595.5,220.4 596.0,223.0 596.5,220.1 597.0,217.5 597.5,225.5 598.0,214.5 598.5,222.1 599.0,222.0 599.5,219.8 600.0,225.3 600.5,221.2 601.0,220.9 601.5,218.0 602.0,221.9 602.5,217.3 603.0,216.1 603.5,219.2 604.0,221.8 604.5,222.3 605.0,224.1 605.5,220.3 606.0,218.1 606.5,217.5 607.0,221.8 607.5,224.0 608.0,230.1 608.5,230.5 609.0,233.8 609.5,231.9 610.0,233.1 610.5,229.5 611.0,225.5 611.5,226.7 612.0,227.4 612.5,225.7 613.0,224.9 613.5,227.2 614.0,235.3 614.5,225.0 615.0,229.8 615.5,231.8 616.0,229.2 616.5,226.4 617.0,235.6 617.5,226.8 618.0,229.3 618.5,227.1 619.0,231.5 619.5,228.8 620.0,230.5 620.5,223.8 621.0,228.9 621.5,225.8 622.0,228.8 622.5,231.0 623.0,222.4 623.5,220.4 624.0,219.0 624.5,224.4 625.0,222.4 625.5,221.0 626.0,223.2 626.5,224.8 627.0,219.7 627.5,228.1 628.0,224.5 628.5,228.2 629.0,221.8 629.5,225.5 630.0,226.9 630.5,221.8 631.0,223.8 631.5,225.0 632.0,224.3 632.5,224.8 633.0,220.7 633.5,220.6 634.0,217.1 634.5,225.5 635.0,221.2 635.5,224.8 636.0,231.0 636.5,223.2 637.0,233.3 637.5,226.9 638.0,233.0 638.5,226.1 639.0,228.3 639.5,229.7 640.0,236.5 640.5,234.9 641.0,230.4 641.5,232.3 642.0,234.0 642.5,233.7 643.0,235.5 643.5,230.6 644.0,236.4 644.5,233.9 645.0,241.3 645.5,241.3 646.0,232.7 646.5,239.3 647.0,237.2 647.5,235.0 648.0,233.0 648.5,232.5 649.0,231.2 649.5,227.5 650.0,231.7 650.5,229.9 651.0,231.6 651.5,229.8 652.0,223.8 652.5,230.3 653.0,236.0 653.5,229.4 654.0,227.7 654.5,221.2 655.0,226.8 655.6,229.0 656.1,225.8 656.6,221.4 657.1,227.9 657.6,222.5 658.1,224.2 658.6,223.9 659.1,228.7 659.6,226.2 660.1,228.5 660.6,225.6 661.1,227.7 661.6,222.5 662.1,227.0 662.6,225.4 663.1,230.3 663.6,227.5 664.1,217.3 664.6,225.4 665.1,228.3 665.6,223.2 666.1,224.8 666.6,227.5 667.1,228.7 667.6,230.5 668.1,226.6 668.6,232.4 669.1,226.5 669.6,223.0 670.1,227.0 670.6,216.4 671.1,222.8 671.6,224.3 672.1,227.3 672.6,224.2 673.1,231.6 673.6,224.7 674.1,219.3 674.6,224.6 675.1,222.8 675.6,228.1 676.1,222.9 676.6,227.4 677.1,225.7 677.6,223.5 678.1,216.9 678.6,224.4 679.1,228.7 679.6,222.2 680.1,220.2 680.6,221.0 681.1,223.2 681.6,220.3 682.1,222.1 682.6,222.7 683.1,227.7 683.6,231.9 684.1,222.8 684.1,247.2 683.6,242.9 683.1,246.6 682.6,239.1 682.1,240.5 681.6,240.2 681.1,243.2 680.6,240.6 680.1,242.2 679.6,240.2 679.1,239.9 678.6,240.7 678.1,240.4 677.6,240.3 677.1,247.1 676.6,240.9 676.1,246.6 675.6,242.6 675.1,245.4 674.6,241.9 674.1,240.8 673.6,242.1 673.1,243.7 672.6,250.1 672.1,247.0 671.6,242.4 671.1,246.2 670.6,242.9 670.1,237.8 669.6,242.8 669.1,244.1 668.6,246.4 668.1,248.1 667.6,244.1 667.1,243.7 666.6,244.5 666.1,239.1 665.6,240.8 665.1,247.1 664.6,239.8 664.1,242.8 663.6,246.4 663.1,236.5 662.6,240.0 662.1,247.3 661.6,244.5 661.1,246.0 660.6,238.2 660.1,241.1 659.6,247.7 659.1,243.6 658.6,246.4 658.1,241.8 657.6,243.1 657.1,240.2 656.6,242.7 656.1,241.5 655.6,244.9 655.0,241.8 654.5,244.3 654.0,242.1 653.5,244.6 653.0,248.8 652.5,248.6 652.0,248.5 651.5,249.0 651.0,250.9 650.5,248.8 650.0,251.0 649.5,249.4 649.0,251.6 648.5,253.0 648.0,254.4 647.5,252.5 647.0,256.9 646.5,257.8 646.0,253.5 645.5,252.4 645.0,254.3 644.5,255.4 644.0,254.0 643.5,249.4 643.0,249.6 642.5,250.1 642.0,249.9 641.5,248.6 641.0,252.2 640.5,243.3 640.0,244.3 639.5,245.9 639.0,240.7 638.5,244.7 638.0,240.6 637.5,245.8 637.0,250.8 636.5,240.1 636.0,243.1 635.5,247.5 635.0,245.7 634.5,237.4 634.0,243.8 633.5,235.7 633.0,242.3 632.5,241.8 632.0,240.3 631.5,234.4 631.0,242.8 630.5,239.4 630.0,244.3 629.5,239.2 629.0,238.7 628.5,238.9 628.0,246.2 627.5,244.1 627.0,242.4 626.5,241.9 626.0,236.6 625.5,235.0 625.0,240.2 624.5,239.6 624.0,239.4 623.5,236.4 623.0,242.3 622.5,245.7 622.0,244.6 621.5,240.0 621.0,242.0 620.5,247.5 620.0,240.7 619.5,242.9 619.0,246.0 618.5,245.4 618.0,243.9 617.5,248.6 617.0,245.9 616.5,246.7 616.0,245.4 615.5,245.6 615.0,241.7 614.5,243.0 614.0,248.5 613.5,241.3 613.0,248.5 612.5,241.2 612.0,237.8 611.5,238.7 611.0,240.3 610.5,244.1 610.0,244.2 609.5,242.9 609.0,246.9 608.5,243.3 608.0,241.8 607.5,241.1 607.0,239.5 606.5,234.3 606.0,235.3 605.5,235.1 605.0,231.7 604.5,242.1 604.0,239.9 603.5,237.6 603.0,234.7 602.5,234.9 602.0,236.9 601.5,236.2 601.0,235.9 600.5,238.0 600.0,238.1 599.5,237.5 599.0,235.6 598.5,240.5 598.0,235.0 597.5,232.8 597.0,230.5 596.5,236.4 596.0,238.2 595.5,237.3 595.0,234.0 594.5,232.7 594.0,237.9 593.5,235.0 593.0,236.8 592.5,233.6 592.0,233.6 591.5,230.3 591.0,235.2 590.5,233.9 590.0,233.0 589.5,233.2 589.0,231.1 588.5,231.2 588.0,225.6 587.5,229.3 587.0,232.8 586.5,226.1 586.0,229.0 585.5,229.2 585.0,227.2 584.5,231.5 584.0,228.1 583.4,227.7 582.9,228.5 582.4,229.2 581.9,232.1 581.4,229.9 580.9,230.8 580.4,230.2 579.9,232.2 579.4,235.2 578.9,236.1 578.4,235.4 577.9,235.9 577.4,237.2 576.9,243.5 576.4,240.3 575.9,242.0 575.4,242.3 574.9,245.0 574.4,243.6 573.9,249.0 573.4,247.4 572.9,253.2 572.4,250.2 571.9,249.1 571.4,244.8 570.9,246.6 570.4,246.8 569.9,241.9 569.4,241.6 568.9,242.3 568.4,238.4 567.9,245.6 567.4,244.2 566.9,242.3 566.4,239.3 565.9,235.8 565.4,236.4 564.9,244.1 564.4,239.1 563.9,236.1 563.4,240.9 562.9,245.9 562.4,245.2 561.9,239.1 561.4,243.4 560.9,243.3 560.4,240.1 559.9,243.1 559.4,239.5 558.9,238.7 558.4,238.7 557.9,238.4 557.4,239.3 556.9,241.9 556.4,243.2 555.9,239.5 555.4,240.7 554.9,246.6 554.4,244.4 553.9,249.0 553.4,246.7 552.9,248.6 552.4,249.2 551.9,249.7 551.4,249.8 550.9,253.0 550.4,256.2 549.9,255.7 549.4,254.5 548.9,256.4 548.4,259.5 547.9,258.4 547.4,262.5 546.9,260.3 546.4,260.2 545.9,264.7 545.4,265.1 544.9,265.5 544.4,265.0 543.9,270.7 543.4,269.0 542.9,270.9 542.4,272.6 541.9,271.6 541.4,275.7 540.9,274.8 540.4,275.4 539.9,277.6 539.4,281.6 538.9,279.1 538.4,279.2 537.9,281.4 537.4,283.2 536.9,284.8 536.4,283.5 535.9,287.2 535.4,286.0 534.9,284.0 534.4,287.2 533.9,287.3 533.4,287.6 532.9,287.5 532.4,285.7 531.9,290.7 531.4,290.7 530.9,291.7 530.4,292.4 529.9,294.4 529.4,296.6 528.9,300.0 528.4,301.0 527.9,299.1 527.4,302.2 526.9,302.3 526.4,303.1 525.9,305.0 525.4,307.1 524.9,311.5 524.4,312.1 523.9,307.1 523.4,305.6 522.9,310.5 522.4,309.9 521.9,314.1 521.4,312.7 520.9,312.4 520.4,312.4 519.9,315.5 519.4,312.2 518.9,313.4 518.4,316.5 517.9,313.1 517.4,317.3 516.9,318.6 516.4,319.2 515.9,319.5 515.4,317.1 514.9,318.6 514.4,317.8 513.9,325.1 513.4,321.4 512.9,322.3 512.4,329.4 511.9,329.7 511.3,323.9 510.8,328.6 510.3,324.3 509.8,320.1 509.3,328.3 508.8,327.2 508.3,325.8 507.8,326.3 507.3,325.2 506.8,330.6 506.3,329.1 505.8,323.5 505.3,326.0 504.8,327.1 504.3,331.0 503.8,329.2 503.3,323.1 502.8,323.9 502.3,321.3 501.8,329.5 501.3,323.0 500.8,325.9 500.3,325.1 499.8,323.1 499.3,324.4 498.8,326.9 498.3,322.5 497.8,325.8 497.3,319.6 496.8,333.4 496.3,320.5 495.8,332.5 495.3,325.1 494.8,330.3 494.3,324.3 493.8,330.7 493.3,327.4 492.8,322.6 492.3,326.2 491.8,332.1 491.3,325.3 490.8,330.9 490.3,328.4 489.8,326.5 489.3,322.7 488.8,330.1 488.3,325.2 487.8,330.1 487.3,326.9 486.8,319.3 486.3,325.5 485.8,328.3 485.3,331.9 484.8,328.3 484.3,329.6 483.8,326.5 483.3,322.2 482.8,324.7 482.3,324.0 481.8,320.4 481.3,323.7 480.8,328.3 480.3,323.7 479.8,325.5 479.3,326.3 478.8,331.0 478.3,327.3 477.8,324.2 477.3,329.6 476.8,321.9 476.3,324.2 475.8,328.1 475.3,329.3 474.8,325.4 474.3,332.7 473.8,323.9 473.3,327.4 472.8,320.8 472.3,332.5 471.8,331.1 471.3,324.2 470.8,330.1 470.3,325.1 469.8,328.0 469.3,325.0 468.8,332.3 468.3,330.2 467.8,330.2 467.3,332.3 466.8,328.4 466.3,325.1 465.8,328.8 465.3,325.0 464.8,332.6 464.3,331.2 463.8,335.6 463.3,327.7 462.8,334.1 462.3,327.3 461.8,330.4 461.3,330.3 460.8,330.8 460.3,326.5 459.8,323.5 459.3,330.0 458.8,332.5 458.3,331.1 457.8,336.3 457.3,331.0 456.8,329.5 456.3,332.8 455.8,325.4 455.3,334.2 454.8,325.5 454.3,330.1 453.8,323.6 453.3,333.1 452.8,328.8 452.3,326.8 451.8,326.9 451.3,330.5 450.8,333.9 450.3,328.3 449.8,328.1 449.3,332.6 448.8,332.6 448.3,335.8 447.8,334.2 447.3,331.0 446.8,333.8 446.3,328.4 445.8,329.4 445.3,327.3 444.8,332.9 444.3,333.2 443.8,334.7 443.3,334.1 442.8,332.9 442.3,340.0 441.8,337.3 441.3,329.4 440.8,333.7 440.3,338.3 439.7,331.7 439.2,333.1 438.7,339.0 438.2,339.0 437.7,336.0 437.2,336.3 436.7,334.9 436.2,335.6 435.7,334.3 435.2,335.2 434.7,332.1 434.2,329.7 433.7,326.9 433.2,325.4 432.7,323.2 432.2,327.9 431.7,323.3 431.2,320.3 430.7,326.5 430.2,327.1 429.7,324.8 429.2,329.4 428.7,330.4 428.2,328.6 427.7,322.9 427.2,330.1 426.7,328.3 426.2,325.7 425.7,324.9 425.2,321.6 424.7,322.9 424.2,321.0 423.7,326.1 423.2,318.1 422.7,323.3 422.2,325.7 421.7,319.0 421.2,322.9 420.7,324.5 420.2,325.7 419.7,329.4 419.2,335.2 418.7,331.3 418.2,334.1 417.7,337.8 417.2,335.1 416.7,337.8 416.2,337.4 415.7,341.1 415.2,336.2 414.7,333.6 414.2,333.6 413.7,332.9 413.2,333.9 412.7,327.0 412.2,329.1 411.7,328.7 411.2,331.6 410.7,324.9 410.2,329.9 409.7,331.2 409.2,326.5 408.7,326.7 408.2,329.0 407.7,326.6 407.2,331.8 406.7,329.3 406.2,325.0 405.7,321.8 405.2,326.9 404.7,325.4 404.2,318.0" fill="#0000ff" fill-opacity="0.27"/>
<polyline points="404.2,312.2 404.7,309.3 405.2,313.7 405.7,318.2 406.2,321.2 406.7,316.6 407.2,319.5 407.7,323.1 408.2,320.3 408.7,322.2 409.2,318.1 409.7,322.4 410.2,325.6 410.7,321.9 411.2,323.0 411.7,315.9 412.2,322.0 412.7,325.1 413.2,321.6 413.7,323.2 414.2,322.5 414.7,323.8 415.2,328.9 415.7,326.6 416.2,327.4 416.7,331.3 417.2,328.0 417.7,324.1 418.2,328.6 418.7,325.7 419.2,322.6 419.7,320.4 420.2,317.4 420.7,322.2 421.2,315.3 421.7,312.4 422.2,307.5 422.7,312.9 423.2,314.7 423.7,317.1 424.2,311.0 424.7,309.6 425.2,317.1 425.7,314.4 426.2,314.3 426.7,315.4 427.2,321.3 427.7,319.1 428.2,322.0 428.7,324.8 429.2,320.2 429.7,319.3 430.2,323.0 430.7,317.8 431.2,312.1 431.7,323.0 432.2,315.5 432.7,314.7 433.2,317.9 433.7,317.8 434.2,320.9 434.7,317.1 435.2,326.1 435.7,324.7 436.2,331.3 436.7,324.2 437.2,324.2 437.7,331.2 438.2,329.2 438.7,325.3 439.2,328.4 439.7,330.3 440.3,334.0 440.8,324.4 441.3,319.5 441.8,328.2 442.3,326.5 442.8,327.6 443.3,329.8 443.8,329.2 444.3,327.6 444.8,329.4 445.3,317.4 445.8,316.2 446.3,324.0 446.8,319.0 447.3,326.9 447.8,324.0 448.3,318.4 448.8,324.8 449.3,324.2 449.8,317.8 450.3,325.3 450.8,313.2 451.3,316.6 451.8,318.4 452.3,317.4 452.8,323.2 453.3,324.1 453.8,319.1 454.3,319.1 454.8,321.7 455.3,321.9 455.8,323.1 456.3,316.3 456.8,325.2 457.3,322.7 457.8,321.3 458.3,324.2 458.8,323.4 459.3,322.3 459.8,315.7 460.3,313.5 460.8,318.7 461.3,325.3 461.8,321.7 462.3,319.9 462.8,320.3 463.3,320.9 463.8,318.3 464.3,326.7 464.8,322.5 465.3,320.1 465.8,318.3 466.3,319.1 466.8,319.3 467.3,319.5 467.8,321.6 468.3,319.9 468.8,321.4 469.3,323.1 469.8,316.5 470.3,316.1 470.8,320.9 471.3,317.5 471.8,315.4 472.3,318.0 472.8,317.9 473.3,316.5 473.8,323.5 474.3,323.0 474.8,317.0 475.3,318.5 475.8,315.6 476.3,322.3 476.8,317.2 477.3,317.0 477.8,313.3 478.3,321.4 478.8,318.9 479.3,316.1 479.8,315.6 480.3,319.7 480.8,318.6 481.3,321.5 481.8,310.1 482.3,318.1 482.8,318.1 483.3,320.3 483.8,318.6 484.3,316.4 484.8,320.2 485.3,319.0 485.8,311.4 486.3,315.2 486.8,317.2 487.3,319.1 487.8,317.3 488.3,318.8 488.8,314.6 489.3,317.0 489.8,317.0 490.3,316.4 490.8,319.4 491.3,316.5 491.8,310.2 492.3,321.4 492.8,325.2 493.3,316.5 493.8,319.6 494.3,312.5 494.8,317.2 495.3,314.7 495.8,319.4 496.3,321.4 496.8,316.4 497.3,313.3 497.8,318.0 498.3,320.1 498.8,316.7 499.3,316.2 499.8,316.0 500.3,315.3 500.8,307.9 501.3,316.1 501.8,318.2 502.3,320.5 502.8,314.9 503.3,323.4 503.8,314.3 504.3,319.4 504.8,324.1 505.3,318.2 505.8,318.6 506.3,313.9 506.8,322.6 507.3,317.1 507.8,318.0 508.3,315.2 508.8,322.1 509.3,321.0 509.8,312.0 510.3,316.4 510.8,322.1 511.3,316.7 511.9,319.7 512.4,319.2 512.9,319.9 513.4,314.1 513.9,316.7 514.4,314.5 514.9,314.2 515.4,316.6 515.9,314.9 516.4,312.2 516.9,314.9 517.4,311.4 517.9,311.0 518.4,309.1 518.9,308.3 519.4,307.5 519.9,307.9 520.4,307.0 520.9,307.8 521.4,307.0 521.9,304.5 522.4,306.3 522.9,303.6 523.4,303.2 523.9,305.4 524.4,302.9 524.9,304.3 525.4,301.9 525.9,302.8 526.4,300.2 526.9,299.4 527.4,300.2 527.9,295.0 528.4,295.8 528.9,298.3 529.4,293.9 529.9,293.1 530.4,287.4 530.9,288.4 531.4,285.8 531.9,285.1 532.4,282.6 532.9,283.3 533.4,283.4 533.9,282.3 534.4,281.4 534.9,278.9 535.4,278.7 535.9,278.7 536.4,277.9 536.9,277.9 537.4,275.5 537.9,277.8 538.4,274.5 538.9,272.0 539.4,273.7 539.9,273.4 540.4,271.4 540.9,271.7 541.4,270.1 541.9,266.8 542.4,267.6 542.9,262.7 543.4,263.6 543.9,263.2 544.4,262.6 544.9,260.9 545.4,262.9 545.9,258.4 546.4,256.7 546.9,256.2 547.4,256.5 547.9,253.7 548.4,252.5 548.9,252.6 549.4,251.0 549.9,249.1 550.4,249.0 550.9,249.1 551.4,247.1 551.9,245.5 552.4,246.6 552.9,242.8 553.4,242.2 553.9,244.8 554.4,243.4 554.9,236.1 555.4,238.0 555.9,233.9 556.4,235.9 556.9,231.4 557.4,233.2 557.9,235.8 558.4,233.0 558.9,229.5 559.4,227.6 559.9,233.3 560.4,236.9 560.9,239.0 561.4,235.3 561.9,234.1 562.4,235.8 562.9,235.4 563.4,232.0 563.9,232.4 564.4,232.5 564.9,238.0 565.4,235.3 565.9,230.0 566.4,235.7 566.9,229.9 567.4,235.8 567.9,237.7 568.4,236.0 568.9,235.0 569.4,238.6 569.9,236.4 570.4,238.8 570.9,234.5 571.4,240.6 571.9,240.1 572.4,245.3 572.9,244.6 573.4,240.3 573.9,241.4 574.4,238.4 574.9,235.5 575.4,233.0 575.9,236.7 576.4,232.2 576.9,229.3 577.4,232.4 577.9,233.6 578.4,231.1 578.9,223.8 579.4,227.1 579.9,221.9 580.4,226.1 580.9,221.4 581.4,227.8 581.9,223.6 582.4,221.9 582.9,216.8 583.4,220.1 584.0,218.4 584.5,222.8 585.0,223.0 585.5,218.6 586.0,218.8 586.5,220.1 587.0,220.3 587.5,224.8 588.0,217.1 588.5,222.5 589.0,219.5 589.5,221.2 590.0,228.5 590.5,229.5 591.0,229.2 591.5,225.2 592.0,222.3 592.5,226.6 593.0,224.2 593.5,230.5 594.0,229.0 594.5,229.9 595.0,227.0 595.5,229.7 596.0,225.9 596.5,223.3 597.0,226.6 597.5,228.5 598.0,228.2 598.5,231.3 599.0,231.4 599.5,226.5 600.0,227.7 600.5,232.4 601.0,228.8 601.5,226.7 602.0,225.8 602.5,226.5 603.0,225.7 603.5,228.7 604.0,228.8 604.5,229.4 605.0,225.4 605.5,226.1 606.0,224.0 606.5,227.0 607.0,234.0 607.5,237.4 608.0,238.3 608.5,237.6 609.0,233.6 609.5,239.5 610.0,241.5 610.5,236.3 611.0,233.6 611.5,233.7 612.0,231.1 612.5,236.1 613.0,237.8 613.5,237.6 614.0,241.1 614.5,239.7 615.0,234.7 615.5,232.7 616.0,235.2 616.5,238.0 617.0,239.3 617.5,237.2 618.0,242.6 618.5,234.5 619.0,233.2 619.5,235.4 620.0,234.5 620.5,239.1 621.0,231.3 621.5,231.0 622.0,241.3 622.5,234.8 623.0,231.9 623.5,227.5 624.0,234.5 624.5,231.7 625.0,227.1 625.5,230.0 626.0,232.5 626.5,234.2 627.0,233.8 627.5,237.2 628.0,232.4 628.5,238.1 629.0,233.6 629.5,231.9 630.0,230.2 630.5,232.6 631.0,232.5 631.5,231.7 632.0,232.7 632.5,229.9 633.0,233.4 633.5,227.1 634.0,224.4 634.5,235.2 635.0,232.6 635.5,238.1 636.0,232.9 636.5,234.5 637.0,236.9 637.5,239.8 638.0,236.8 638.5,231.0 639.0,232.8 639.5,237.4 640.0,241.3 640.5,240.1 641.0,242.7 641.5,244.4 642.0,243.3 642.5,238.7 643.0,240.3 643.5,241.8 644.0,246.9 644.5,249.0 645.0,242.2 645.5,246.8 646.0,242.5 646.5,248.4 647.0,242.9 647.5,245.0 648.0,246.4 648.5,245.3 649.0,236.8 649.5,239.1 650.0,242.5 650.5,241.0 651.0,245.9 651.5,234.8 652.0,234.8 652.5,239.6 653.0,236.3 653.5,245.9 654.0,233.5 654.5,234.2 655.0,234.1 655.6,232.2 656.1,233.8 656.6,237.8 657.1,236.9 657.6,235.0 658.1,231.3 658.6,234.0 659.1,236.5 659.6,233.8 660.1,239.2 660.6,228.7 661.1,234.0 661.6,237.7 662.1,234.0 662.6,231.4 663.1,233.6 663.6,229.0 664.1,239.7 664.6,229.3 665.1,233.5 665.6,230.1 666.1,227.4 666.6,237.2 667.1,238.4 667.6,235.6 668.1,239.9 668.6,240.9 669.1,234.1 669.6,230.6 670.1,236.0 670.6,233.1 671.1,223.2 671.6,234.2 672.1,236.5 672.6,236.2 673.1,234.2 673.6,236.5 674.1,233.3 674.6,235.0 675.1,232.7 675.6,234.4 676.1,233.6 676.6,234.5 677.1,234.6 677.6,230.5 678.1,231.2 678.6,229.9 679.1,232.2 679.6,234.2 680.1,226.4 680.6,233.4 681.1,230.7 681.6,238.1 682.1,231.6 682.6,231.7 683.1,235.0 683.6,240.3 684.1,233.8" fill="none" stroke="#0000ff" stroke-width="1.3" stroke-linejoin="round"/>
<rect x="404.20" y="203.6" width="107.65" height="141.6" fill="rgb(120,225,130)" fill-opacity="0.280"/>
<rect x="511.85" y="203.6" width="43.06" height="141.6" fill="rgb(252,224,112)" fill-opacity="0.286"/>
<rect x="554.91" y="203.6" width="21.53" height="141.6" fill="rgb(175,147,231)" fill-opacity="0.286"/>
<rect x="576.44" y="203.6" width="107.65" height="141.6" fill="rgb(120,225,130)" fill-opacity="0.280"/>
<line x1="404.2" y1="236.0" x2="684.1" y2="236.0" stroke="rgb(30,150,34)" stroke-width="1.9" stroke-dasharray="6.1 2.7"/>
<line x1="404.2" y1="321.9" x2="684.1" y2="321.9" stroke="rgb(228,78,50)" stroke-width="1.9" stroke-dasharray="6.1 2.7"/>
</g>
<rect x="404.2" y="203.6" width="279.9" height="141.6" fill="none" stroke="#262626" stroke-width="1.0"/>
<line x1="404.2" y1="345.2" x2="404.2" y2="348.7" stroke="#262626" stroke-width="0.9"/>
<text x="404.2" y="360.5" font-size="11.4" font-family="Liberation Sans" text-anchor="middle" textLength="17.2" lengthAdjust="spacingAndGlyphs" fill="#262626">0.0</text>
<line x1="447.3" y1="345.2" x2="447.3" y2="348.7" stroke="#262626" stroke-width="0.9"/>
<text x="447.3" y="360.5" font-size="11.4" font-family="Liberation Sans" text-anchor="middle" textLength="17.2" lengthAdjust="spacingAndGlyphs" fill="#262626">0.2</text>
<line x1="490.3" y1="345.2" x2="490.3" y2="348.7" stroke="#262626" stroke-width="0.9"/>
<text x="490.3" y="360.5" font-size="11.4" font-family="Liberation Sans" text-anchor="middle" textLength="17.2" lengthAdjust="spacingAndGlyphs" fill="#262626">0.4</text>
<line x1="533.4" y1="345.2" x2="533.4" y2="348.7" stroke="#262626" stroke-width="0.9"/>
<text x="533.4" y="360.5" font-size="11.4" font-family="Liberation Sans" text-anchor="middle" textLength="17.2" lengthAdjust="spacingAndGlyphs" fill="#262626">0.6</text>
<line x1="576.4" y1="345.2" x2="576.4" y2="348.7" stroke="#262626" stroke-width="0.9"/>
<text x="576.4" y="360.5" font-size="11.4" font-family="Liberation Sans" text-anchor="middle" textLength="17.2" lengthAdjust="spacingAndGlyphs" fill="#262626">0.8</text>
<line x1="619.5" y1="345.2" x2="619.5" y2="348.7" stroke="#262626" stroke-width="0.9"/>
<text x="619.5" y="360.5" font-size="11.4" font-family="Liberation Sans" text-anchor="middle" textLength="17.2" lengthAdjust="spacingAndGlyphs" fill="#262626">1.0</text>
<line x1="662.6" y1="345.2" x2="662.6" y2="348.7" stroke="#262626" stroke-width="0.9"/>
<text x="662.6" y="360.5" font-size="11.4" font-family="Liberation Sans" text-anchor="middle" textLength="17.2" lengthAdjust="spacingAndGlyphs" fill="#262626">1.2</text>
<line x1="400.7" y1="222.3" x2="404.2" y2="222.3" stroke="#262626" stroke-width="0.9"/>
<text x="396.8" y="226.2" font-size="11.4" font-family="Liberation Sans" text-anchor="end" textLength="15.9" lengthAdjust="spacingAndGlyphs" fill="#262626">−6</text>
<line x1="400.7" y1="251.5" x2="404.2" y2="251.5" stroke="#262626" stroke-width="0.9"/>
<text x="396.8" y="255.4" font-size="11.4" font-family="Liberation Sans" text-anchor="end" textLength="15.9" lengthAdjust="spacingAndGlyphs" fill="#262626">−8</text>
<line x1="400.7" y1="280.7" x2="404.2" y2="280.7" stroke="#262626" stroke-width="0.9"/>
<text x="396.8" y="284.6" font-size="11.4" font-family="Liberation Sans" text-anchor="end" textLength="22.8" lengthAdjust="spacingAndGlyphs" fill="#262626">−10</text>
<line x1="400.7" y1="309.8" x2="404.2" y2="309.8" stroke="#262626" stroke-width="0.9"/>
<text x="396.8" y="313.8" font-size="11.4" font-family="Liberation Sans" text-anchor="end" textLength="22.8" lengthAdjust="spacingAndGlyphs" fill="#262626">−12</text>
<line x1="400.7" y1="339.0" x2="404.2" y2="339.0" stroke="#262626" stroke-width="0.9"/>
<text x="396.8" y="343.0" font-size="11.4" font-family="Liberation Sans" text-anchor="end" textLength="22.8" lengthAdjust="spacingAndGlyphs" fill="#262626">−14</text>
<text x="478.8" y="377.8" font-size="13.6" font-family="Liberation Sans" textLength="130.7" lengthAdjust="spacingAndGlyphs" fill="#1a1a1a">Simulation time (µs)</text>
<text x="436.0" y="213.8" font-size="10.4" font-family="Liberation Serif" textLength="54.8" lengthAdjust="spacingAndGlyphs" fill="#111">Equilibration</text>
<text x="514.8" y="213.8" font-size="10.4" font-family="Liberation Serif" textLength="22.5" lengthAdjust="spacingAndGlyphs" fill="#111">SMD</text>
<text x="545.5" y="213.8" font-size="10.4" font-family="Liberation Serif" textLength="41.1" lengthAdjust="spacingAndGlyphs" fill="#111">Releasing</text>
<text x="602.6" y="213.8" font-size="10.4" font-family="Liberation Serif" textLength="55.4" lengthAdjust="spacingAndGlyphs" fill="#111">Equilibration</text>
<text x="349.7" y="199.9" font-size="14.2" font-family="Liberation Sans" textLength="10.1" lengthAdjust="spacingAndGlyphs">D</text>
<text transform="translate(368.2 277.0) rotate(-90)" x="0" y="0" font-size="13.9" font-family="Liberation Sans" text-anchor="middle" textLength="95.7" lengthAdjust="spacingAndGlyphs">Translation (Å)</text>
<defs><clipPath id="cE"><rect x="52.9" y="403.3" width="269.2" height="183"/></clipPath></defs>
<g clip-path="url(#cE)">
<polyline points="76.0,435.8 83.1,441.5 90.5,447.0 97.6,452.1 104.8,458.0 111.9,463.0 119.1,467.0 126.2,470.9 133.4,475.0 140.5,478.7 148.3,484.8 154.8,488.3 162.0,490.9 169.1,494.0 176.3,495.6 183.3,497.1 191.2,500.5 198.0,503.8 204.7,505.6 212.7,512.3 218.8,516.8 226.2,523.0 233.1,531.3 240.3,536.4 247.0,539.3 254.6,546.5 261.7,551.6 269.1,554.2 276.1,556.3 283.2,557.9 290.4,559.3 297.1,561.0" fill="none" stroke="#1f77b4" stroke-width="1.5" stroke-linejoin="round"/>
<g fill="#1f77b4"><circle cx="76.0" cy="435.8" r="2.4"/><circle cx="83.1" cy="441.5" r="2.4"/><circle cx="90.5" cy="447.0" r="2.4"/><circle cx="97.6" cy="452.1" r="2.4"/><circle cx="104.8" cy="458.0" r="2.4"/><circle cx="111.9" cy="463.0" r="2.4"/><circle cx="119.1" cy="467.0" r="2.4"/><circle cx="126.2" cy="470.9" r="2.4"/><circle cx="133.4" cy="475.0" r="2.4"/><circle cx="140.5" cy="478.7" r="2.4"/><circle cx="148.3" cy="484.8" r="2.4"/><circle cx="154.8" cy="488.3" r="2.4"/><circle cx="162.0" cy="490.9" r="2.4"/><circle cx="169.1" cy="494.0" r="2.4"/><circle cx="176.3" cy="495.6" r="2.4"/><circle cx="183.3" cy="497.1" r="2.4"/><circle cx="191.2" cy="500.5" r="2.4"/><circle cx="198.0" cy="503.8" r="2.4"/><circle cx="204.7" cy="505.6" r="2.4"/><circle cx="212.7" cy="512.3" r="2.4"/><circle cx="218.8" cy="516.8" r="2.4"/><circle cx="226.2" cy="523.0" r="2.4"/><circle cx="233.1" cy="531.3" r="2.4"/><circle cx="240.3" cy="536.4" r="2.4"/><circle cx="247.0" cy="539.3" r="2.4"/><circle cx="254.6" cy="546.5" r="2.4"/><circle cx="261.7" cy="551.6" r="2.4"/><circle cx="269.1" cy="554.2" r="2.4"/><circle cx="276.1" cy="556.3" r="2.4"/><circle cx="283.2" cy="557.9" r="2.4"/><circle cx="290.4" cy="559.3" r="2.4"/><circle cx="297.1" cy="561.0" r="2.4"/></g>
<polyline points="90.5,447.4 97.6,452.1 104.8,455.2 111.3,460.3 119.1,467.0 126.2,469.5 133.4,471.9 140.5,477.0 147.7,479.7 154.8,485.4 162.0,489.9 169.1,495.0 176.3,501.6 182.4,506.6 188.2,515.0 193.3,520.5 200.4,523.0 209.0,528.7 214.7,531.1 220.9,532.8 227.4,535.2 233.5,535.8 241.3,542.4 247.4,548.1 253.6,553.2 260.7,555.7 267.9,558.9 274.4,560.4 281.6,563.4 288.3,563.8 295.5,564.9" fill="none" stroke="#ff7f0e" stroke-width="1.5" stroke-linejoin="round"/>
<g fill="#ff7f0e"><circle cx="90.5" cy="447.4" r="2.4"/><circle cx="97.6" cy="452.1" r="2.4"/><circle cx="104.8" cy="455.2" r="2.4"/><circle cx="111.3" cy="460.3" r="2.4"/><circle cx="119.1" cy="467.0" r="2.4"/><circle cx="126.2" cy="469.5" r="2.4"/><circle cx="133.4" cy="471.9" r="2.4"/><circle cx="140.5" cy="477.0" r="2.4"/><circle cx="147.7" cy="479.7" r="2.4"/><circle cx="154.8" cy="485.4" r="2.4"/><circle cx="162.0" cy="489.9" r="2.4"/><circle cx="169.1" cy="495.0" r="2.4"/><circle cx="176.3" cy="501.6" r="2.4"/><circle cx="182.4" cy="506.6" r="2.4"/><circle cx="188.2" cy="515.0" r="2.4"/><circle cx="193.3" cy="520.5" r="2.4"/><circle cx="200.4" cy="523.0" r="2.4"/><circle cx="209.0" cy="528.7" r="2.4"/><circle cx="214.7" cy="531.1" r="2.4"/><circle cx="220.9" cy="532.8" r="2.4"/><circle cx="227.4" cy="535.2" r="2.4"/><circle cx="233.5" cy="535.8" r="2.4"/><circle cx="241.3" cy="542.4" r="2.4"/><circle cx="247.4" cy="548.1" r="2.4"/><circle cx="253.6" cy="553.2" r="2.4"/><circle cx="260.7" cy="555.7" r="2.4"/><circle cx="267.9" cy="558.9" r="2.4"/><circle cx="274.4" cy="560.4" r="2.4"/><circle cx="281.6" cy="563.4" r="2.4"/><circle cx="288.3" cy="563.8" r="2.4"/><circle cx="295.5" cy="564.9" r="2.4"/></g>
<polyline points="70.4,458.2 78.0,459.9 85.8,461.7 93.5,464.0 101.5,467.4 108.9,470.5 115.0,475.6 122.1,478.7 131.7,487.9 139.5,494.4 147.5,499.1 154.6,500.8 162.4,503.2 171.6,507.3 178.8,508.9 186.1,509.9 193.7,516.0 200.8,520.9 209.2,523.0 216.4,528.1 223.9,532.2 231.7,535.8 238.7,542.2 246.0,545.4 254.0,548.7 261.3,551.6 268.9,552.6 276.5,553.8 284.2,554.2 292.0,555.9 300.2,556.7 307.3,554.8" fill="none" stroke="#2ca02c" stroke-width="1.5" stroke-linejoin="round"/>
<g fill="#2ca02c"><circle cx="70.4" cy="458.2" r="2.4"/><circle cx="78.0" cy="459.9" r="2.4"/><circle cx="85.8" cy="461.7" r="2.4"/><circle cx="93.5" cy="464.0" r="2.4"/><circle cx="101.5" cy="467.4" r="2.4"/><circle cx="108.9" cy="470.5" r="2.4"/><circle cx="115.0" cy="475.6" r="2.4"/><circle cx="122.1" cy="478.7" r="2.4"/><circle cx="131.7" cy="487.9" r="2.4"/><circle cx="139.5" cy="494.4" r="2.4"/><circle cx="147.5" cy="499.1" r="2.4"/><circle cx="154.6" cy="500.8" r="2.4"/><circle cx="162.4" cy="503.2" r="2.4"/><circle cx="171.6" cy="507.3" r="2.4"/><circle cx="178.8" cy="508.9" r="2.4"/><circle cx="186.1" cy="509.9" r="2.4"/><circle cx="193.7" cy="516.0" r="2.4"/><circle cx="200.8" cy="520.9" r="2.4"/><circle cx="209.2" cy="523.0" r="2.4"/><circle cx="216.4" cy="528.1" r="2.4"/><circle cx="223.9" cy="532.2" r="2.4"/><circle cx="231.7" cy="535.8" r="2.4"/><circle cx="238.7" cy="542.2" r="2.4"/><circle cx="246.0" cy="545.4" r="2.4"/><circle cx="254.0" cy="548.7" r="2.4"/><circle cx="261.3" cy="551.6" r="2.4"/><circle cx="268.9" cy="552.6" r="2.4"/><circle cx="276.5" cy="553.8" r="2.4"/><circle cx="284.2" cy="554.2" r="2.4"/><circle cx="292.0" cy="555.9" r="2.4"/><circle cx="300.2" cy="556.7" r="2.4"/><circle cx="307.3" cy="554.8" r="2.4"/></g>
</g>
<rect x="52.9" y="403.3" width="269.2" height="183.0" fill="none" stroke="#3a3a3a" stroke-width="1.0"/>
<line x1="79.6" y1="586.3" x2="79.6" y2="589.8" stroke="#3a3a3a" stroke-width="0.9"/>
<text x="79.6" y="601.5" font-size="10.9" font-family="Liberation Sans" text-anchor="middle" textLength="21.7" lengthAdjust="spacingAndGlyphs" fill="#262626">−15</text>
<line x1="146.9" y1="586.3" x2="146.9" y2="589.8" stroke="#3a3a3a" stroke-width="0.9"/>
<text x="146.9" y="601.5" font-size="10.9" font-family="Liberation Sans" text-anchor="middle" textLength="21.7" lengthAdjust="spacingAndGlyphs" fill="#262626">−10</text>
<line x1="214.2" y1="586.3" x2="214.2" y2="589.8" stroke="#3a3a3a" stroke-width="0.9"/>
<text x="214.2" y="601.5" font-size="10.9" font-family="Liberation Sans" text-anchor="middle" textLength="15.2" lengthAdjust="spacingAndGlyphs" fill="#262626">−5</text>
<line x1="281.6" y1="586.3" x2="281.6" y2="589.8" stroke="#3a3a3a" stroke-width="0.9"/>
<text x="281.6" y="601.5" font-size="10.9" font-family="Liberation Sans" text-anchor="middle" textLength="6.6" lengthAdjust="spacingAndGlyphs" fill="#262626">0</text>
<line x1="49.4" y1="586.3" x2="52.9" y2="586.3" stroke="#3a3a3a" stroke-width="0.9"/>
<text x="46.2" y="590.0" font-size="10.9" font-family="Liberation Sans" text-anchor="end" textLength="21.7" lengthAdjust="spacingAndGlyphs" fill="#262626">−14</text>
<line x1="49.4" y1="545.9" x2="52.9" y2="545.9" stroke="#3a3a3a" stroke-width="0.9"/>
<text x="46.2" y="549.6" font-size="10.9" font-family="Liberation Sans" text-anchor="end" textLength="21.7" lengthAdjust="spacingAndGlyphs" fill="#262626">−12</text>
<line x1="49.4" y1="505.5" x2="52.9" y2="505.5" stroke="#3a3a3a" stroke-width="0.9"/>
<text x="46.2" y="509.2" font-size="10.9" font-family="Liberation Sans" text-anchor="end" textLength="21.7" lengthAdjust="spacingAndGlyphs" fill="#262626">−10</text>
<line x1="49.4" y1="465.1" x2="52.9" y2="465.1" stroke="#3a3a3a" stroke-width="0.9"/>
<text x="46.2" y="468.9" font-size="10.9" font-family="Liberation Sans" text-anchor="end" textLength="15.2" lengthAdjust="spacingAndGlyphs" fill="#262626">−8</text>
<line x1="49.4" y1="424.7" x2="52.9" y2="424.7" stroke="#3a3a3a" stroke-width="0.9"/>
<text x="46.2" y="428.4" font-size="10.9" font-family="Liberation Sans" text-anchor="end" textLength="15.2" lengthAdjust="spacingAndGlyphs" fill="#262626">−6</text>
<text x="152.8" y="617.0" font-size="12.7" font-family="Liberation Sans" textLength="69.4" lengthAdjust="spacingAndGlyphs" fill="#1a1a1a">Rotation (°)</text>
<text transform="translate(21.3 503.8) rotate(-90)" x="0" y="0" font-size="12.6" font-family="Liberation Sans" text-anchor="middle" textLength="86.1" lengthAdjust="spacingAndGlyphs">Translation (Å)</text>
<text x="0.9" y="394.7" font-size="14.2" font-family="Liberation Sans" textLength="7.6" lengthAdjust="spacingAndGlyphs">E</text>
<rect x="103.4" y="409.1" width="213.3" height="43.7" rx="2" fill="#fff" fill-opacity="0.8" stroke="#cccccc" stroke-width="0.9"/>
<line x1="106.4" y1="415.4" x2="126.3" y2="415.4" stroke="#1f77b4" stroke-width="1.5"/>
<circle cx="116.3" cy="415.4" r="2.4" fill="#1f77b4"/>
<text x="133.2" y="419.0" font-size="10.0" font-family="Liberation Sans" textLength="48.0" lengthAdjust="spacingAndGlyphs" fill="#1a1a1a">Apo State</text>
<line x1="106.4" y1="429.5" x2="126.3" y2="429.5" stroke="#ff7f0e" stroke-width="1.5"/>
<circle cx="116.3" cy="429.5" r="2.4" fill="#ff7f0e"/>
<text x="133.2" y="433.1" font-size="10.0" font-family="Liberation Sans" textLength="117.0" lengthAdjust="spacingAndGlyphs" fill="#1a1a1a">Bicarbonate-bound State</text>
<line x1="106.4" y1="443.4" x2="126.3" y2="443.4" stroke="#2ca02c" stroke-width="1.5"/>
<circle cx="116.3" cy="443.4" r="2.4" fill="#2ca02c"/>
<text x="133.2" y="447.0" font-size="10.0" font-family="Liberation Sans" textLength="179.8" lengthAdjust="spacingAndGlyphs" fill="#1a1a1a">Bicarbonate-bound State without PIP2</text>
<defs><clipPath id="cF"><rect x="400.5" y="401.5" width="283.3" height="182.3"/></clipPath></defs>
<g clip-path="url(#cF)">
<polyline points="400.5,574.8 405.1,573.4 409.6,572.1 414.2,570.5 418.8,568.9 423.3,567.3 427.9,565.6 432.4,564.0 437.0,561.4 441.6,558.8 446.1,555.6 450.7,552.4 455.3,549.9 459.8,547.4 464.4,544.9 468.9,542.5 473.5,538.1 478.1,533.8 482.6,531.7 487.2,529.6 491.8,526.3 496.3,521.7 500.9,516.5 505.4,511.3 510.0,505.6 514.6,499.8 519.1,494.0 523.7,488.2 528.3,483.6 532.8,480.0 537.4,475.8 542.0,470.9 546.5,466.0 551.1,461.0 555.6,456.0 560.2,451.0 564.8,445.8 569.3,441.2 573.9,438.9 578.5,436.6 583.0,434.3 587.6,435.5 592.1,436.6 596.7,437.8 601.3,439.7 605.8,441.7 610.4,443.7 615.0,445.7 619.5,448.4 624.1,451.9 628.6,455.8 633.2,460.3 637.8,464.7 642.3,469.2 646.9,473.7 651.5,478.9 656.0,484.1 660.6,488.1 665.2,492.2 669.7,495.2 674.3,498.2 678.8,502.0 683.4,506.2" fill="none" stroke="#1f77b4" stroke-width="1.2" stroke-linejoin="round"/>
<path d="M478.1,532.9V534.6M476.3,532.9H479.9M476.3,534.6H479.9M482.6,530.8V532.6M480.8,530.8H484.4M480.8,532.6H484.4M487.2,528.6V530.6M485.4,528.6H489.0M485.4,530.6H489.0M491.8,525.2V527.4M490.0,525.2H493.6M490.0,527.4H493.6M496.3,520.4V523.0M494.5,520.4H498.1M494.5,523.0H498.1M500.9,515.1V517.9M499.1,515.1H502.7M499.1,517.9H502.7M505.4,509.7V512.9M503.6,509.7H507.2M503.6,512.9H507.2M510.0,503.9V507.4M508.2,503.9H511.8M508.2,507.4H511.8M514.6,497.9V501.8M512.8,497.9H516.4M512.8,501.8H516.4M519.1,491.9V496.1M517.3,491.9H520.9M517.3,496.1H520.9M523.7,485.9V490.4M521.9,485.9H525.5M521.9,490.4H525.5M528.3,481.2V486.1M526.5,481.2H530.1M526.5,486.1H530.1M532.8,477.4V482.6M531.0,477.4H534.6M531.0,482.6H534.6M537.4,473.1V478.6M535.6,473.1H539.2M535.6,478.6H539.2M542.0,467.9V474.0M540.2,467.9H543.8M540.2,474.0H543.8M546.5,462.7V469.4M544.7,462.7H548.3M544.7,469.4H548.3M551.1,457.4V464.7M549.3,457.4H552.9M549.3,464.7H552.9M555.6,452.1V460.0M553.8,452.1H557.4M553.8,460.0H557.4M560.2,446.7V455.2M558.4,446.7H562.0M558.4,455.2H562.0M564.8,441.2V450.3M563.0,441.2H566.6M563.0,450.3H566.6M569.3,436.6V445.7M567.5,436.6H571.1M567.5,445.7H571.1M573.9,434.3V443.5M572.1,434.3H575.7M572.1,443.5H575.7M578.5,432.0V441.2M576.7,432.0H580.3M576.7,441.2H580.3M583.0,429.7V438.9M581.2,429.7H584.8M581.2,438.9H584.8M587.6,430.9V440.1M585.8,430.9H589.4M585.8,440.1H589.4M592.1,432.1V441.2M590.3,432.1H593.9M590.3,441.2H593.9M596.7,433.2V442.4M594.9,433.2H598.5M594.9,442.4H598.5M601.3,435.1V444.2M599.5,435.1H603.1M599.5,444.2H603.1M605.8,437.1V446.2M604.0,437.1H607.6M604.0,446.2H607.6M610.4,439.1V448.2M608.6,439.1H612.2M608.6,448.2H612.2M615.0,441.1V450.2M613.2,441.1H616.8M613.2,450.2H616.8M619.5,443.8V453.0M617.7,443.8H621.3M617.7,453.0H621.3M624.1,447.3V456.5M622.3,447.3H625.9M622.3,456.5H625.9M628.6,451.2V460.4M626.9,451.2H630.4M626.9,460.4H630.4M633.2,455.7V464.8M631.4,455.7H635.0M631.4,464.8H635.0M637.8,460.2V469.3M636.0,460.2H639.6M636.0,469.3H639.6M642.3,464.6V473.8M640.5,464.6H644.1M640.5,473.8H644.1M646.9,469.1V478.3M645.1,469.1H648.7M645.1,478.3H648.7M651.5,474.3V483.5M649.7,474.3H653.3M649.7,483.5H653.3M656.0,479.5V488.7M654.2,479.5H657.8M654.2,488.7H657.8M660.6,483.6V492.7M658.8,483.6H662.4M658.8,492.7H662.4M665.2,487.6V496.8M663.4,487.6H667.0M663.4,496.8H667.0M669.7,490.7V499.8M667.9,490.7H671.5M667.9,499.8H671.5M674.3,493.6V502.7M672.5,493.6H676.1M672.5,502.7H676.1M678.8,497.5V506.6M677.0,497.5H680.6M677.0,506.6H680.6M683.4,501.6V510.7M681.6,501.6H685.2M681.6,510.7H685.2" fill="none" stroke="#1f77b4" stroke-width="1.1"/>
<g fill="#1f77b4"><circle cx="400.5" cy="574.8" r="1.6"/><circle cx="405.1" cy="573.4" r="1.6"/><circle cx="409.6" cy="572.1" r="1.6"/><circle cx="414.2" cy="570.5" r="1.6"/><circle cx="418.8" cy="568.9" r="1.6"/><circle cx="423.3" cy="567.3" r="1.6"/><circle cx="427.9" cy="565.6" r="1.6"/><circle cx="432.4" cy="564.0" r="1.6"/><circle cx="437.0" cy="561.4" r="1.6"/><circle cx="441.6" cy="558.8" r="1.6"/><circle cx="446.1" cy="555.6" r="1.6"/><circle cx="450.7" cy="552.4" r="1.6"/><circle cx="455.3" cy="549.9" r="1.6"/><circle cx="459.8" cy="547.4" r="1.6"/><circle cx="464.4" cy="544.9" r="1.6"/><circle cx="468.9" cy="542.5" r="1.6"/><circle cx="473.5" cy="538.1" r="1.6"/><circle cx="478.1" cy="533.8" r="1.6"/><circle cx="482.6" cy="531.7" r="1.6"/><circle cx="487.2" cy="529.6" r="1.6"/><circle cx="491.8" cy="526.3" r="1.6"/><circle cx="496.3" cy="521.7" r="1.6"/><circle cx="500.9" cy="516.5" r="1.6"/><circle cx="505.4" cy="511.3" r="1.6"/><circle cx="510.0" cy="505.6" r="1.6"/><circle cx="514.6" cy="499.8" r="1.6"/><circle cx="519.1" cy="494.0" r="1.6"/><circle cx="523.7" cy="488.2" r="1.6"/><circle cx="528.3" cy="483.6" r="1.6"/><circle cx="532.8" cy="480.0" r="1.6"/><circle cx="537.4" cy="475.8" r="1.6"/><circle cx="542.0" cy="470.9" r="1.6"/><circle cx="546.5" cy="466.0" r="1.6"/><circle cx="551.1" cy="461.0" r="1.6"/><circle cx="555.6" cy="456.0" r="1.6"/><circle cx="560.2" cy="451.0" r="1.6"/><circle cx="564.8" cy="445.8" r="1.6"/><circle cx="569.3" cy="441.2" r="1.6"/><circle cx="573.9" cy="438.9" r="1.6"/><circle cx="578.5" cy="436.6" r="1.6"/><circle cx="583.0" cy="434.3" r="1.6"/><circle cx="587.6" cy="435.5" r="1.6"/><circle cx="592.1" cy="436.6" r="1.6"/><circle cx="596.7" cy="437.8" r="1.6"/><circle cx="601.3" cy="439.7" r="1.6"/><circle cx="605.8" cy="441.7" r="1.6"/><circle cx="610.4" cy="443.7" r="1.6"/><circle cx="615.0" cy="445.7" r="1.6"/><circle cx="619.5" cy="448.4" r="1.6"/><circle cx="624.1" cy="451.9" r="1.6"/><circle cx="628.6" cy="455.8" r="1.6"/><circle cx="633.2" cy="460.3" r="1.6"/><circle cx="637.8" cy="464.7" r="1.6"/><circle cx="642.3" cy="469.2" r="1.6"/><circle cx="646.9" cy="473.7" r="1.6"/><circle cx="651.5" cy="478.9" r="1.6"/><circle cx="656.0" cy="484.1" r="1.6"/><circle cx="660.6" cy="488.1" r="1.6"/><circle cx="665.2" cy="492.2" r="1.6"/><circle cx="669.7" cy="495.2" r="1.6"/><circle cx="674.3" cy="498.2" r="1.6"/><circle cx="678.8" cy="502.0" r="1.6"/><circle cx="683.4" cy="506.2" r="1.6"/></g>
<polyline points="400.5,574.5 405.1,573.1 409.6,571.6 414.2,570.0 418.8,568.4 423.3,565.0 427.9,560.2 432.4,553.9 437.0,548.6 441.6,545.5 446.1,541.0 450.7,536.4 455.3,531.8 459.8,527.6 464.4,524.1 468.9,519.9 473.5,515.8 478.1,511.5 482.6,507.2 487.2,503.0 491.8,498.7 496.3,494.4 500.9,490.8 505.4,487.2 510.0,484.1 514.6,482.1 519.1,480.1 523.7,478.3 528.3,476.5 532.8,474.8 537.4,473.1 542.0,471.5 546.5,469.9 551.1,468.1 555.6,466.5 560.2,465.6 564.8,464.7 569.3,463.8 573.9,463.2 578.5,462.9 583.0,462.6 587.6,462.3 592.1,464.3 596.7,466.6 601.3,468.9 605.8,471.2 610.4,473.3 615.0,475.2 619.5,477.1 624.1,479.8 628.6,483.2 633.2,486.6 637.8,490.0 642.3,493.4 646.9,496.8 651.5,500.2 656.0,502.6 660.6,505.0 665.2,507.4 669.7,508.9 674.3,510.2 678.8,511.6 683.4,512.6" fill="none" stroke="#ff7f0e" stroke-width="1.2" stroke-linejoin="round"/>
<path d="M478.1,510.7V512.3M476.3,510.7H479.9M476.3,512.3H479.9M482.6,506.3V508.2M480.8,506.3H484.4M480.8,508.2H484.4M487.2,502.0V504.0M485.4,502.0H489.0M485.4,504.0H489.0M491.8,497.6V499.8M490.0,497.6H493.6M490.0,499.8H493.6M496.3,493.2V495.7M494.5,493.2H498.1M494.5,495.7H498.1M500.9,489.4V492.2M499.1,489.4H502.7M499.1,492.2H502.7M505.4,485.6V488.8M503.6,485.6H507.2M503.6,488.8H507.2M510.0,482.3V485.8M508.2,482.3H511.8M508.2,485.8H511.8M514.6,480.2V484.0M512.8,480.2H516.4M512.8,484.0H516.4M519.1,478.0V482.2M517.3,478.0H520.9M517.3,482.2H520.9M523.7,476.0V480.5M521.9,476.0H525.5M521.9,480.5H525.5M528.3,474.1V479.0M526.5,474.1H530.1M526.5,479.0H530.1M532.8,472.2V477.4M531.0,472.2H534.6M531.0,477.4H534.6M537.4,470.4V475.8M535.6,470.4H539.2M535.6,475.8H539.2M542.0,468.6V474.4M540.2,468.6H543.8M540.2,474.4H543.8M546.5,466.8V472.9M544.7,466.8H548.3M544.7,472.9H548.3M551.1,464.9V471.3M549.3,464.9H552.9M549.3,471.3H552.9M555.6,463.2V469.9M553.8,463.2H557.4M553.8,469.9H557.4M560.2,462.1V469.1M558.4,462.1H562.0M558.4,469.1H562.0M564.8,461.0V468.4M563.0,461.0H566.6M563.0,468.4H566.6M569.3,460.1V467.4M567.5,460.1H571.1M567.5,467.4H571.1M573.9,459.6V466.9M572.1,459.6H575.7M572.1,466.9H575.7M578.5,459.2V466.6M576.7,459.2H580.3M576.7,466.6H580.3M583.0,458.9V466.2M581.2,458.9H584.8M581.2,466.2H584.8M587.6,458.6V465.9M585.8,458.6H589.4M585.8,465.9H589.4M592.1,460.6V468.0M590.3,460.6H593.9M590.3,468.0H593.9M596.7,462.9V470.3M594.9,462.9H598.5M594.9,470.3H598.5M601.3,465.3V472.6M599.5,465.3H603.1M599.5,472.6H603.1M605.8,467.6V474.9M604.0,467.6H607.6M604.0,474.9H607.6M610.4,469.6V476.9M608.6,469.6H612.2M608.6,476.9H612.2M615.0,471.5V478.8M613.2,471.5H616.8M613.2,478.8H616.8M619.5,473.4V480.8M617.7,473.4H621.3M617.7,480.8H621.3M624.1,476.1V483.4M622.3,476.1H625.9M622.3,483.4H625.9M628.6,479.5V486.8M626.9,479.5H630.4M626.9,486.8H630.4M633.2,482.9V490.2M631.4,482.9H635.0M631.4,490.2H635.0M637.8,486.3V493.6M636.0,486.3H639.6M636.0,493.6H639.6M642.3,489.7V497.1M640.5,489.7H644.1M640.5,497.1H644.1M646.9,493.2V500.5M645.1,493.2H648.7M645.1,500.5H648.7M651.5,496.5V503.8M649.7,496.5H653.3M649.7,503.8H653.3M656.0,498.9V506.2M654.2,498.9H657.8M654.2,506.2H657.8M660.6,501.3V508.6M658.8,501.3H662.4M658.8,508.6H662.4M665.2,503.7V511.0M663.4,503.7H667.0M663.4,511.0H667.0M669.7,505.2V512.5M667.9,505.2H671.5M667.9,512.5H671.5M674.3,506.6V513.9M672.5,506.6H676.1M672.5,513.9H676.1M678.8,507.9V515.3M677.0,507.9H680.6M677.0,515.3H680.6M683.4,508.9V516.2M681.6,508.9H685.2M681.6,516.2H685.2" fill="none" stroke="#ff7f0e" stroke-width="1.1"/>
<g fill="#ff7f0e"><circle cx="400.5" cy="574.5" r="1.6"/><circle cx="405.1" cy="573.1" r="1.6"/><circle cx="409.6" cy="571.6" r="1.6"/><circle cx="414.2" cy="570.0" r="1.6"/><circle cx="418.8" cy="568.4" r="1.6"/><circle cx="423.3" cy="565.0" r="1.6"/><circle cx="427.9" cy="560.2" r="1.6"/><circle cx="432.4" cy="553.9" r="1.6"/><circle cx="437.0" cy="548.6" r="1.6"/><circle cx="441.6" cy="545.5" r="1.6"/><circle cx="446.1" cy="541.0" r="1.6"/><circle cx="450.7" cy="536.4" r="1.6"/><circle cx="455.3" cy="531.8" r="1.6"/><circle cx="459.8" cy="527.6" r="1.6"/><circle cx="464.4" cy="524.1" r="1.6"/><circle cx="468.9" cy="519.9" r="1.6"/><circle cx="473.5" cy="515.8" r="1.6"/><circle cx="478.1" cy="511.5" r="1.6"/><circle cx="482.6" cy="507.2" r="1.6"/><circle cx="487.2" cy="503.0" r="1.6"/><circle cx="491.8" cy="498.7" r="1.6"/><circle cx="496.3" cy="494.4" r="1.6"/><circle cx="500.9" cy="490.8" r="1.6"/><circle cx="505.4" cy="487.2" r="1.6"/><circle cx="510.0" cy="484.1" r="1.6"/><circle cx="514.6" cy="482.1" r="1.6"/><circle cx="519.1" cy="480.1" r="1.6"/><circle cx="523.7" cy="478.3" r="1.6"/><circle cx="528.3" cy="476.5" r="1.6"/><circle cx="532.8" cy="474.8" r="1.6"/><circle cx="537.4" cy="473.1" r="1.6"/><circle cx="542.0" cy="471.5" r="1.6"/><circle cx="546.5" cy="469.9" r="1.6"/><circle cx="551.1" cy="468.1" r="1.6"/><circle cx="555.6" cy="466.5" r="1.6"/><circle cx="560.2" cy="465.6" r="1.6"/><circle cx="564.8" cy="464.7" r="1.6"/><circle cx="569.3" cy="463.8" r="1.6"/><circle cx="573.9" cy="463.2" r="1.6"/><circle cx="578.5" cy="462.9" r="1.6"/><circle cx="583.0" cy="462.6" r="1.6"/><circle cx="587.6" cy="462.3" r="1.6"/><circle cx="592.1" cy="464.3" r="1.6"/><circle cx="596.7" cy="466.6" r="1.6"/><circle cx="601.3" cy="468.9" r="1.6"/><circle cx="605.8" cy="471.2" r="1.6"/><circle cx="610.4" cy="473.3" r="1.6"/><circle cx="615.0" cy="475.2" r="1.6"/><circle cx="619.5" cy="477.1" r="1.6"/><circle cx="624.1" cy="479.8" r="1.6"/><circle cx="628.6" cy="483.2" r="1.6"/><circle cx="633.2" cy="486.6" r="1.6"/><circle cx="637.8" cy="490.0" r="1.6"/><circle cx="642.3" cy="493.4" r="1.6"/><circle cx="646.9" cy="496.8" r="1.6"/><circle cx="651.5" cy="500.2" r="1.6"/><circle cx="656.0" cy="502.6" r="1.6"/><circle cx="660.6" cy="505.0" r="1.6"/><circle cx="665.2" cy="507.4" r="1.6"/><circle cx="669.7" cy="508.9" r="1.6"/><circle cx="674.3" cy="510.2" r="1.6"/><circle cx="678.8" cy="511.6" r="1.6"/><circle cx="683.4" cy="512.6" r="1.6"/></g>
<polyline points="400.5,574.5 405.1,575.2 409.6,575.8 414.2,576.4 418.8,576.3 423.3,576.1 427.9,575.9 432.4,574.9 437.0,573.6 441.6,572.2 446.1,570.8 450.7,568.7 455.3,566.7 459.8,564.8 464.4,563.0 468.9,560.7 473.5,558.2 478.1,555.4 482.6,552.4 487.2,548.5 491.8,544.6 496.3,541.8 500.9,538.9 505.4,534.5 510.0,530.0 514.6,524.8 519.1,519.3 523.7,514.3 528.3,509.5 532.8,504.8 537.4,501.6 542.0,498.3 546.5,495.3 551.1,492.8 555.6,490.2 560.2,487.4 564.8,485.0 569.3,483.7 573.9,482.3 578.5,481.0 583.0,480.8 587.6,480.5 592.1,481.5 596.7,482.6 601.3,483.8 605.8,486.0 610.4,488.6 615.0,491.3 619.5,494.5 624.1,498.3 628.6,502.0 633.2,505.6 637.8,508.6 642.3,511.7 646.9,514.6 651.5,517.0 656.0,519.4 660.6,521.7 665.2,522.5 669.7,523.2 674.3,523.9 678.8,523.8 683.4,523.5" fill="none" stroke="#2ca02c" stroke-width="1.2" stroke-linejoin="round"/>
<path d="M478.1,554.6V556.2M476.3,554.6H479.9M476.3,556.2H479.9M482.6,551.5V553.4M480.8,551.5H484.4M480.8,553.4H484.4M487.2,547.5V549.5M485.4,547.5H489.0M485.4,549.5H489.0M491.8,543.5V545.7M490.0,543.5H493.6M490.0,545.7H493.6M496.3,540.5V543.0M494.5,540.5H498.1M494.5,543.0H498.1M500.9,537.5V540.4M499.1,537.5H502.7M499.1,540.4H502.7M505.4,532.9V536.1M503.6,532.9H507.2M503.6,536.1H507.2M510.0,528.2V531.7M508.2,528.2H511.8M508.2,531.7H511.8M514.6,522.8V526.7M512.8,522.8H516.4M512.8,526.7H516.4M519.1,517.2V521.4M517.3,517.2H520.9M517.3,521.4H520.9M523.7,512.0V516.5M521.9,512.0H525.5M521.9,516.5H525.5M528.3,507.1V511.9M526.5,507.1H530.1M526.5,511.9H530.1M532.8,502.2V507.4M531.0,502.2H534.6M531.0,507.4H534.6M537.4,498.8V504.3M535.6,498.8H539.2M535.6,504.3H539.2M542.0,495.5V501.2M540.2,495.5H543.8M540.2,501.2H543.8M546.5,492.4V498.3M544.7,492.4H548.3M544.7,498.3H548.3M551.1,489.7V495.8M549.3,489.7H552.9M549.3,495.8H552.9M555.6,487.0V493.3M553.8,487.0H557.4M553.8,493.3H557.4M560.2,484.2V490.7M558.4,484.2H562.0M558.4,490.7H562.0M564.8,481.6V488.4M563.0,481.6H566.6M563.0,488.4H566.6M569.3,480.3V487.1M567.5,480.3H571.1M567.5,487.1H571.1M573.9,478.9V485.7M572.1,478.9H575.7M572.1,485.7H575.7M578.5,477.6V484.4M576.7,477.6H580.3M576.7,484.4H580.3M583.0,477.4V484.2M581.2,477.4H584.8M581.2,484.2H584.8M587.6,477.2V483.9M585.8,477.2H589.4M585.8,483.9H589.4M592.1,478.1V484.9M590.3,478.1H593.9M590.3,484.9H593.9M596.7,479.3V486.0M594.9,479.3H598.5M594.9,486.0H598.5M601.3,480.4V487.1M599.5,480.4H603.1M599.5,487.1H603.1M605.8,482.6V489.3M604.0,482.6H607.6M604.0,489.3H607.6M610.4,485.2V492.0M608.6,485.2H612.2M608.6,492.0H612.2M615.0,487.9V494.7M613.2,487.9H616.8M613.2,494.7H616.8M619.5,491.1V497.9M617.7,491.1H621.3M617.7,497.9H621.3M624.1,494.9V501.7M622.3,494.9H625.9M622.3,501.7H625.9M628.6,498.7V505.4M626.9,498.7H630.4M626.9,505.4H630.4M633.2,502.2V509.0M631.4,502.2H635.0M631.4,509.0H635.0M637.8,505.2V512.0M636.0,505.2H639.6M636.0,512.0H639.6M642.3,508.3V515.0M640.5,508.3H644.1M640.5,515.0H644.1M646.9,511.2V518.0M645.1,511.2H648.7M645.1,518.0H648.7M651.5,513.6V520.4M649.7,513.6H653.3M649.7,520.4H653.3M656.0,516.0V522.7M654.2,516.0H657.8M654.2,522.7H657.8M660.6,518.3V525.1M658.8,518.3H662.4M658.8,525.1H662.4M665.2,519.1V525.8M663.4,519.1H667.0M663.4,525.8H667.0M669.7,519.8V526.6M667.9,519.8H671.5M667.9,526.6H671.5M674.3,520.6V527.3M672.5,520.6H676.1M672.5,527.3H676.1M678.8,520.5V527.2M677.0,520.5H680.6M677.0,527.2H680.6M683.4,520.2V526.9M681.6,520.2H685.2M681.6,526.9H685.2" fill="none" stroke="#2ca02c" stroke-width="1.1"/>
<g fill="#2ca02c"><circle cx="400.5" cy="574.5" r="1.6"/><circle cx="405.1" cy="575.2" r="1.6"/><circle cx="409.6" cy="575.8" r="1.6"/><circle cx="414.2" cy="576.4" r="1.6"/><circle cx="418.8" cy="576.3" r="1.6"/><circle cx="423.3" cy="576.1" r="1.6"/><circle cx="427.9" cy="575.9" r="1.6"/><circle cx="432.4" cy="574.9" r="1.6"/><circle cx="437.0" cy="573.6" r="1.6"/><circle cx="441.6" cy="572.2" r="1.6"/><circle cx="446.1" cy="570.8" r="1.6"/><circle cx="450.7" cy="568.7" r="1.6"/><circle cx="455.3" cy="566.7" r="1.6"/><circle cx="459.8" cy="564.8" r="1.6"/><circle cx="464.4" cy="563.0" r="1.6"/><circle cx="468.9" cy="560.7" r="1.6"/><circle cx="473.5" cy="558.2" r="1.6"/><circle cx="478.1" cy="555.4" r="1.6"/><circle cx="482.6" cy="552.4" r="1.6"/><circle cx="487.2" cy="548.5" r="1.6"/><circle cx="491.8" cy="544.6" r="1.6"/><circle cx="496.3" cy="541.8" r="1.6"/><circle cx="500.9" cy="538.9" r="1.6"/><circle cx="505.4" cy="534.5" r="1.6"/><circle cx="510.0" cy="530.0" r="1.6"/><circle cx="514.6" cy="524.8" r="1.6"/><circle cx="519.1" cy="519.3" r="1.6"/><circle cx="523.7" cy="514.3" r="1.6"/><circle cx="528.3" cy="509.5" r="1.6"/><circle cx="532.8" cy="504.8" r="1.6"/><circle cx="537.4" cy="501.6" r="1.6"/><circle cx="542.0" cy="498.3" r="1.6"/><circle cx="546.5" cy="495.3" r="1.6"/><circle cx="551.1" cy="492.8" r="1.6"/><circle cx="555.6" cy="490.2" r="1.6"/><circle cx="560.2" cy="487.4" r="1.6"/><circle cx="564.8" cy="485.0" r="1.6"/><circle cx="569.3" cy="483.7" r="1.6"/><circle cx="573.9" cy="482.3" r="1.6"/><circle cx="578.5" cy="481.0" r="1.6"/><circle cx="583.0" cy="480.8" r="1.6"/><circle cx="587.6" cy="480.5" r="1.6"/><circle cx="592.1" cy="481.5" r="1.6"/><circle cx="596.7" cy="482.6" r="1.6"/><circle cx="601.3" cy="483.8" r="1.6"/><circle cx="605.8" cy="486.0" r="1.6"/><circle cx="610.4" cy="488.6" r="1.6"/><circle cx="615.0" cy="491.3" r="1.6"/><circle cx="619.5" cy="494.5" r="1.6"/><circle cx="624.1" cy="498.3" r="1.6"/><circle cx="628.6" cy="502.0" r="1.6"/><circle cx="633.2" cy="505.6" r="1.6"/><circle cx="637.8" cy="508.6" r="1.6"/><circle cx="642.3" cy="511.7" r="1.6"/><circle cx="646.9" cy="514.6" r="1.6"/><circle cx="651.5" cy="517.0" r="1.6"/><circle cx="656.0" cy="519.4" r="1.6"/><circle cx="660.6" cy="521.7" r="1.6"/><circle cx="665.2" cy="522.5" r="1.6"/><circle cx="669.7" cy="523.2" r="1.6"/><circle cx="674.3" cy="523.9" r="1.6"/><circle cx="678.8" cy="523.8" r="1.6"/><circle cx="683.4" cy="523.5" r="1.6"/></g>
</g>
<rect x="400.5" y="401.5" width="283.3" height="182.3" fill="none" stroke="#3a3a3a" stroke-width="1.0"/>
<line x1="400.5" y1="583.8" x2="400.5" y2="587.3" stroke="#3a3a3a" stroke-width="0.9"/>
<text x="400.5" y="599.5" font-size="11.1" font-family="Liberation Sans" text-anchor="middle" textLength="6.7" lengthAdjust="spacingAndGlyphs" fill="#262626">0</text>
<line x1="446.1" y1="583.8" x2="446.1" y2="587.3" stroke="#3a3a3a" stroke-width="0.9"/>
<text x="446.1" y="599.5" font-size="11.1" font-family="Liberation Sans" text-anchor="middle" textLength="13.4" lengthAdjust="spacingAndGlyphs" fill="#262626">10</text>
<line x1="491.8" y1="583.8" x2="491.8" y2="587.3" stroke="#3a3a3a" stroke-width="0.9"/>
<text x="491.8" y="599.5" font-size="11.1" font-family="Liberation Sans" text-anchor="middle" textLength="13.4" lengthAdjust="spacingAndGlyphs" fill="#262626">20</text>
<line x1="537.4" y1="583.8" x2="537.4" y2="587.3" stroke="#3a3a3a" stroke-width="0.9"/>
<text x="537.4" y="599.5" font-size="11.1" font-family="Liberation Sans" text-anchor="middle" textLength="13.4" lengthAdjust="spacingAndGlyphs" fill="#262626">30</text>
<line x1="583.0" y1="583.8" x2="583.0" y2="587.3" stroke="#3a3a3a" stroke-width="0.9"/>
<text x="583.0" y="599.5" font-size="11.1" font-family="Liberation Sans" text-anchor="middle" textLength="13.4" lengthAdjust="spacingAndGlyphs" fill="#262626">40</text>
<line x1="628.6" y1="583.8" x2="628.6" y2="587.3" stroke="#3a3a3a" stroke-width="0.9"/>
<text x="628.6" y="599.5" font-size="11.1" font-family="Liberation Sans" text-anchor="middle" textLength="13.4" lengthAdjust="spacingAndGlyphs" fill="#262626">50</text>
<line x1="674.3" y1="583.8" x2="674.3" y2="587.3" stroke="#3a3a3a" stroke-width="0.9"/>
<text x="674.3" y="599.5" font-size="11.1" font-family="Liberation Sans" text-anchor="middle" textLength="13.4" lengthAdjust="spacingAndGlyphs" fill="#262626">60</text>
<line x1="397.0" y1="574.8" x2="400.5" y2="574.8" stroke="#3a3a3a" stroke-width="0.9"/>
<text x="393.5" y="578.6" font-size="11.1" font-family="Liberation Sans" text-anchor="end" textLength="6.7" lengthAdjust="spacingAndGlyphs" fill="#262626">0</text>
<line x1="397.0" y1="529.0" x2="400.5" y2="529.0" stroke="#3a3a3a" stroke-width="0.9"/>
<text x="393.5" y="532.9" font-size="11.1" font-family="Liberation Sans" text-anchor="end" textLength="6.7" lengthAdjust="spacingAndGlyphs" fill="#262626">5</text>
<line x1="397.0" y1="483.3" x2="400.5" y2="483.3" stroke="#3a3a3a" stroke-width="0.9"/>
<text x="393.5" y="487.1" font-size="11.1" font-family="Liberation Sans" text-anchor="end" textLength="13.4" lengthAdjust="spacingAndGlyphs" fill="#262626">10</text>
<line x1="397.0" y1="437.5" x2="400.5" y2="437.5" stroke="#3a3a3a" stroke-width="0.9"/>
<text x="393.5" y="441.4" font-size="11.1" font-family="Liberation Sans" text-anchor="end" textLength="13.4" lengthAdjust="spacingAndGlyphs" fill="#262626">15</text>
<text x="504.9" y="615.0" font-size="12.7" font-family="Liberation Sans" textLength="74.8" lengthAdjust="spacingAndGlyphs" fill="#1a1a1a">Image index</text>
<text transform="translate(373.6 491.8) rotate(-90)" x="0" y="0" font-size="12.6" font-family="Liberation Sans" text-anchor="middle" textLength="152.9" lengthAdjust="spacingAndGlyphs">Free energy (kcal·mol<tspan dy="-4.5" font-size="8.5">−1</tspan><tspan dy="4.5">)</tspan></text>
<text x="351.1" y="394.6" font-size="14.2" font-family="Liberation Sans" textLength="7.5" lengthAdjust="spacingAndGlyphs">F</text>
<rect x="405.6" y="407.0" width="218.6" height="44.5" rx="2" fill="#fff" fill-opacity="0.8" stroke="#cccccc" stroke-width="0.9"/>
<line x1="409.0" y1="414.5" x2="429.5" y2="414.5" stroke="#1f77b4" stroke-width="1.2"/>
<path d="M419.3,410.0V419.0M417.3,410.0H421.3M417.3,419.0H421.3" stroke="#1f77b4" stroke-width="1.2"/>
<text x="437.0" y="418.1" font-size="10.2" font-family="Liberation Sans" textLength="49.0" lengthAdjust="spacingAndGlyphs" fill="#1a1a1a">Apo State</text>
<line x1="409.0" y1="428.3" x2="429.5" y2="428.3" stroke="#ff7f0e" stroke-width="1.2"/>
<path d="M419.3,423.8V432.8M417.3,423.8H421.3M417.3,432.8H421.3" stroke="#ff7f0e" stroke-width="1.2"/>
<text x="437.0" y="431.9" font-size="10.2" font-family="Liberation Sans" textLength="119.5" lengthAdjust="spacingAndGlyphs" fill="#1a1a1a">Bicarbonate-bound State</text>
<line x1="409.0" y1="442.4" x2="429.5" y2="442.4" stroke="#2ca02c" stroke-width="1.2"/>
<path d="M419.3,437.9V446.9M417.3,437.9H421.3M417.3,446.9H421.3" stroke="#2ca02c" stroke-width="1.2"/>
<text x="437.0" y="446.0" font-size="10.2" font-family="Liberation Sans" textLength="183.3" lengthAdjust="spacingAndGlyphs" fill="#1a1a1a">Bicarbonate-bound State without PIP2</text>
</svg></body></html>
